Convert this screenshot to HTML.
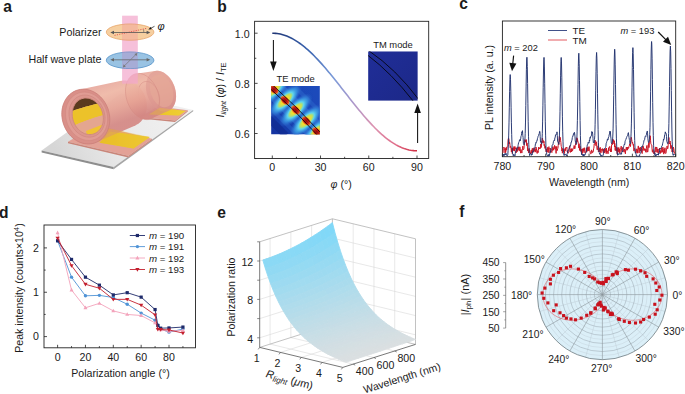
<!DOCTYPE html>
<html><head><meta charset="utf-8"><style>
html,body{margin:0;padding:0;background:#fff;width:685px;height:394px;overflow:hidden}
svg{display:block;font-family:"Liberation Sans", sans-serif;fill:#1a1a1a}
text{fill:#1a1a1a}
</style></head><body>
<svg width="685" height="394" viewBox="0 0 685 394">
<text x="3.3" y="11.7" font-size="15.6" font-weight="bold">a</text>
<text x="217.3" y="11.8" font-size="15.6" font-weight="bold">b</text>
<text x="459.3" y="8.6" font-size="15.6" font-weight="bold">c</text>
<text x="-0.9" y="217.9" font-size="15.6" font-weight="bold">d</text>
<text x="217.3" y="217.9" font-size="15.6" font-weight="bold">e</text>
<text x="459.3" y="216.8" font-size="15.6" font-weight="bold">f</text>
<defs><linearGradient id="slabG" gradientUnits="userSpaceOnUse" x1="60" y1="160" x2="170" y2="105"><stop offset="0" stop-color="#d6d6d6"/><stop offset="0.45" stop-color="#e8e8e8"/><stop offset="1" stop-color="#f0f0f0"/></linearGradient><linearGradient id="tubeG" gradientUnits="userSpaceOnUse" x1="105" y1="72" x2="122" y2="122"><stop offset="0" stop-color="#d88e8a"/><stop offset="0.15" stop-color="#e6a69c"/><stop offset="0.4" stop-color="#eeb6a4"/><stop offset="0.7" stop-color="#e6a294"/><stop offset="1" stop-color="#d48884"/></linearGradient><linearGradient id="goldG" x1="0" y1="0" x2="1" y2="0"><stop offset="0" stop-color="#e8c21c"/><stop offset="1" stop-color="#f2d838"/></linearGradient></defs>
<polygon points="41.6,150.6 113.7,167.1 193.2,109.9 121,93.4" fill="url(#slabG)"/>
<polygon points="41.6,150.6 113.7,167.1 113.7,169.2 41.6,152.4" fill="#8e8e8e"/>
<polygon points="113.7,167.1 193.2,109.9 193.2,111.3 113.7,169.2" fill="#a6a6a6"/>
<polygon points="68,141.8 128.3,155.8 152,138.8 96,125" fill="#e3a196"/>
<polygon points="68,141.8 128.3,155.8 128.3,157.4 68,143.3" fill="#c98579"/>
<polygon points="128.3,155.8 152,138.8 152,140.2 128.3,157.4" fill="#cf8c80"/>
<polygon points="140,117 175,120.5 187.8,110.3 158,106.6" fill="#e3a196"/>
<polygon points="140,117 175,120.5 175,122 140,118.5" fill="#c98579"/>
<polygon points="175,120.5 187.8,110.3 187.8,111.6 175,122" fill="#cf8c80"/>
<polygon points="99.6,142.7 133.6,148.6 149.8,136.9 110,131.6" fill="url(#goldG)"/>
<polygon points="148.9,114.4 179,115.6 185.7,111.1 159.6,107.8" fill="url(#goldG)"/>
<path d="M125.51,91.71 L125.52,89.76 L125.66,87.86 L125.93,86.03 L126.32,84.27 L126.84,82.61 L127.48,81.05 L128.23,79.62 L129.08,78.31 L130.04,77.14 L131.10,76.11 L132.24,75.24 L133.46,74.54 L134.75,74.00 L136.10,73.63 L137.50,73.43 L156.60,70.84 L157.87,70.82 L159.17,70.96 L160.48,71.25 L161.79,71.69 L163.10,72.28 L164.39,73.02 L165.66,73.89 L166.89,74.90 L168.08,76.02 L169.21,77.27 L170.28,78.62 L171.28,80.06 L172.20,81.60 L173.04,83.20 L173.78,84.86 L174.43,86.58 L174.97,88.33 L175.41,90.10 L175.74,91.87 L175.96,93.65 L176.06,95.40 L176.05,97.12 L175.92,98.80 L175.68,100.42 L175.33,101.97 L174.87,103.44 L174.30,104.81 L173.63,106.08 L172.87,107.24 L172.02,108.28 L171.08,109.18 L170.06,109.95 L168.98,110.58 L151.54,118.46 L150.25,119.00 L148.90,119.37 L147.50,119.57 L146.07,119.58 L144.61,119.43 L143.13,119.10 L141.65,118.59 L140.17,117.92 L138.71,117.09 L137.28,116.10 L135.89,114.96 L134.55,113.67 L133.27,112.26 L132.06,110.73 L130.93,109.09 L129.89,107.36 L128.95,105.54 L128.10,103.65 L127.37,101.71 L126.75,99.73 L126.26,97.72 L125.88,95.71 L125.63,93.70 Z" fill="url(#tubeG)" opacity="0.94"/>
<path d="M174.43,86.58 L174.97,88.33 L175.41,90.10 L175.74,91.87 L175.96,93.65 L176.06,95.40 L176.05,97.12 L175.92,98.80 L175.68,100.42 L175.33,101.97 L174.87,103.44 L174.30,104.81 L173.63,106.08 L172.87,107.24 L172.02,108.28 L171.08,109.18 L170.06,109.95 L168.98,110.58 L167.84,111.06 L166.64,111.38 L165.40,111.56 L164.13,111.58 L162.83,111.44 L161.52,111.15 L160.21,110.71 L158.90,110.12 L157.61,109.38 L156.34,108.51 L155.11,107.50 L153.92,106.38 L152.79,105.13 L151.72,103.78 L150.72,102.34 L149.80,100.80 L148.96,99.20 L148.22,97.54 L147.57,95.82 L147.03,94.07 L146.59,92.30 L146.26,90.53 L146.04,88.75 L145.94,87.00 L145.95,85.28 L146.08,83.60 L146.32,81.98 L146.67,80.43 L147.13,78.96 L147.70,77.59 L148.37,76.32 L149.13,75.16 L149.98,74.12 L150.92,73.22 L151.94,72.45 L153.02,71.82 L154.16,71.34 L155.36,71.02 L156.60,70.84 L157.87,70.82 L159.17,70.96 L160.48,71.25 L161.79,71.69 L163.10,72.28 L164.39,73.02 L165.66,73.89 L166.89,74.90 L168.08,76.02 L169.21,77.27 L170.28,78.62 L171.28,80.06 L172.20,81.60 L173.04,83.20 L173.78,84.86 Z" fill="#dc9890" opacity="0.55"/>
<path d="M172.00,87.22 L172.44,88.63 L172.80,90.06 L173.08,91.50 L173.27,92.93 L173.37,94.35 L173.37,95.74 L173.29,97.09 L173.13,98.39 L172.87,99.63 L172.53,100.81 L172.10,101.91 L171.59,102.93 L171.01,103.85 L170.36,104.68 L169.64,105.40 L168.86,106.01 L168.02,106.50 L167.13,106.87 L166.21,107.12 L165.24,107.25 L164.25,107.25 L163.24,107.13 L162.22,106.88 L161.19,106.51 L160.17,106.02 L159.15,105.42 L158.16,104.70 L157.19,103.88 L156.25,102.95 L155.36,101.94 L154.51,100.84 L153.72,99.66 L152.99,98.42 L152.32,97.12 L151.72,95.77 L151.20,94.38 L150.76,92.97 L150.40,91.54 L150.12,90.10 L149.93,88.67 L149.83,87.25 L149.83,85.86 L149.91,84.51 L150.07,83.21 L150.33,81.97 L150.67,80.79 L151.10,79.69 L151.61,78.67 L152.19,77.75 L152.84,76.92 L153.56,76.20 L154.34,75.59 L155.18,75.10 L156.07,74.73 L156.99,74.48 L157.96,74.35 L158.95,74.35 L159.96,74.47 L160.98,74.72 L162.01,75.09 L163.03,75.58 L164.05,76.18 L165.04,76.90 L166.01,77.72 L166.95,78.65 L167.84,79.66 L168.69,80.76 L169.48,81.94 L170.21,83.18 L170.88,84.48 L171.48,85.83 Z" fill="#e6aa98" opacity="0.6"/>
<path d="M158.46,92.74 L158.84,93.99 L159.16,95.26 L159.40,96.53 L159.56,97.79 L159.63,99.04 L159.63,100.27 L159.55,101.47 L159.38,102.62 L159.14,103.73 L158.82,104.77 L158.42,105.75 L157.96,106.65 L157.42,107.48 L156.82,108.21 L156.16,108.86 L155.45,109.40 L154.69,109.85 L153.88,110.18 L153.04,110.41 L152.17,110.53 L151.27,110.54 L150.36,110.44 L149.43,110.23 L148.50,109.91 L147.58,109.49 L146.66,108.96 L145.77,108.33 L144.90,107.61 L144.06,106.80 L143.25,105.91 L142.49,104.94 L141.79,103.91 L141.13,102.82 L140.54,101.67 L140.01,100.48 L139.54,99.26 L139.16,98.01 L138.84,96.74 L138.60,95.47 L138.44,94.21 L138.37,92.96 L138.37,91.73 L138.45,90.53 L138.62,89.38 L138.86,88.27 L139.18,87.23 L139.58,86.25 L140.04,85.35 L140.58,84.52 L141.18,83.79 L141.84,83.14 L142.55,82.60 L143.31,82.15 L144.12,81.82 L144.96,81.59 L145.83,81.47 L146.73,81.46 L147.64,81.56 L148.57,81.77 L149.50,82.09 L150.42,82.51 L151.34,83.04 L152.23,83.67 L153.10,84.39 L153.94,85.20 L154.75,86.09 L155.51,87.06 L156.21,88.09 L156.87,89.18 L157.46,90.33 L157.99,91.52 Z" fill="none" stroke="#d89088" stroke-width="0.8" opacity="0.7"/>
<path d="M61.82,114.80 L61.84,112.43 L62.03,110.08 L62.41,107.79 L62.96,105.56 L63.69,103.42 L64.58,101.38 L65.64,99.46 L66.85,97.66 L68.21,96.01 L69.70,94.52 L71.31,93.19 L73.03,92.04 L74.85,91.08 L76.75,90.31 L78.72,89.75 L120.04,80.99 L121.80,80.67 L123.60,80.52 L125.41,80.55 L127.23,80.76 L129.04,81.14 L130.82,81.69 L132.57,82.42 L134.27,83.30 L135.91,84.34 L137.47,85.53 L138.94,86.86 L140.32,88.32 L141.59,89.90 L142.73,91.58 L143.75,93.35 L144.64,95.21 L145.38,97.13 L145.98,99.10 L146.42,101.10 L146.71,103.13 L146.84,105.16 L146.81,107.18 L146.63,109.18 L146.28,111.13 L145.79,113.03 L145.14,114.86 L144.35,116.60 L143.41,118.25 L142.35,119.79 L141.16,121.20 L139.85,122.49 L138.44,123.63 L136.93,124.62 L135.34,125.45 L96.75,142.12 L94.85,142.89 L92.88,143.45 L90.85,143.81 L88.79,143.97 L86.71,143.92 L84.61,143.66 L82.53,143.19 L80.47,142.52 L78.45,141.65 L76.49,140.60 L74.60,139.36 L72.79,137.94 L71.08,136.37 L69.49,134.64 L68.02,132.78 L66.68,130.79 L65.49,128.70 L64.45,126.51 L63.58,124.25 L62.88,121.93 L62.35,119.57 L61.99,117.19 Z" fill="url(#tubeG)" opacity="0.92"/>
<path d="M157.63,91.29 L158.25,93.27 L158.74,95.28 L159.12,97.29 L159.37,99.30 L159.49,101.29 L159.48,103.24 L159.34,105.14 L159.07,106.97 L158.68,108.73 L158.16,110.39 L157.52,111.95 L156.77,113.38 L155.92,114.69 L154.96,115.86 L153.90,116.89 L152.76,117.76 L151.54,118.46 L150.25,119.00 L148.90,119.37 L147.50,119.57 L146.07,119.58 L144.61,119.43 L143.13,119.10 L141.65,118.59 L140.17,117.92 L138.71,117.09 L137.28,116.10 L135.89,114.96 L134.55,113.67 L133.27,112.26 L132.06,110.73 L130.93,109.09 L129.89,107.36 L128.95,105.54 L128.10,103.65 L127.37,101.71 L126.75,99.73 L126.26,97.72 L125.88,95.71 L125.63,93.70 L125.51,91.71 L125.52,89.76 L125.66,87.86 L125.93,86.03 L126.32,84.27 L126.84,82.61 L127.48,81.05 L128.23,79.62 L129.08,78.31 L130.04,77.14 L131.10,76.11 L132.24,75.24 L133.46,74.54 L134.75,74.00 L136.10,73.63 L137.50,73.43 L138.93,73.42 L140.39,73.57 L141.87,73.90 L143.35,74.41 L144.83,75.08 L146.29,75.91 L147.72,76.90 L149.11,78.04 L150.45,79.33 L151.73,80.74 L152.94,82.27 L154.07,83.91 L155.11,85.64 L156.05,87.46 L156.90,89.35 Z" fill="none" stroke="#d48a82" stroke-width="0.9" opacity="0.55"/>
<polygon points="92,140.2 133.6,148.6 149.8,136.9 108,128.2" fill="#eab830" opacity="0.42"/>
<path d="M108.02,108.95 L108.72,111.27 L109.25,113.63 L109.61,116.01 L109.78,118.40 L109.76,120.77 L109.57,123.12 L109.19,125.41 L108.64,127.64 L107.91,129.78 L107.02,131.82 L105.96,133.74 L104.75,135.54 L103.39,137.19 L101.90,138.68 L100.29,140.01 L98.57,141.16 L96.75,142.12 L94.85,142.89 L92.88,143.45 L90.85,143.81 L88.79,143.97 L86.71,143.92 L84.61,143.66 L82.53,143.19 L80.47,142.52 L78.45,141.65 L76.49,140.60 L74.60,139.36 L72.79,137.94 L71.08,136.37 L69.49,134.64 L68.02,132.78 L66.68,130.79 L65.49,128.70 L64.45,126.51 L63.58,124.25 L62.88,121.93 L62.35,119.57 L61.99,117.19 L61.82,114.80 L61.84,112.43 L62.03,110.08 L62.41,107.79 L62.96,105.56 L63.69,103.42 L64.58,101.38 L65.64,99.46 L66.85,97.66 L68.21,96.01 L69.70,94.52 L71.31,93.19 L73.03,92.04 L74.85,91.08 L76.75,90.31 L78.72,89.75 L80.75,89.39 L82.81,89.23 L84.89,89.28 L86.99,89.54 L89.07,90.01 L91.13,90.68 L93.15,91.55 L95.11,92.60 L97.00,93.84 L98.81,95.26 L100.52,96.83 L102.11,98.56 L103.58,100.42 L104.92,102.41 L106.11,104.50 L107.15,106.69 Z" fill="#d98f88" stroke="#cc807a" stroke-width="0.8"/>
<path d="M106.08,109.59 L106.70,111.65 L107.17,113.73 L107.49,115.84 L107.64,117.95 L107.64,120.05 L107.47,122.12 L107.15,124.15 L106.67,126.11 L106.04,128.00 L105.26,129.81 L104.33,131.51 L103.27,133.09 L102.09,134.55 L100.79,135.86 L99.38,137.03 L97.87,138.04 L96.28,138.89 L94.61,139.56 L92.88,140.06 L91.11,140.37 L89.29,140.50 L87.46,140.45 L85.63,140.21 L83.80,139.80 L81.99,139.20 L80.22,138.43 L78.49,137.49 L76.83,136.39 L75.24,135.14 L73.74,133.74 L72.33,132.21 L71.04,130.56 L69.86,128.80 L68.81,126.94 L67.89,125.01 L67.12,123.01 L66.50,120.95 L66.03,118.87 L65.71,116.76 L65.56,114.65 L65.56,112.55 L65.73,110.48 L66.05,108.45 L66.53,106.49 L67.16,104.60 L67.94,102.79 L68.87,101.09 L69.93,99.51 L71.11,98.05 L72.41,96.74 L73.82,95.57 L75.33,94.56 L76.92,93.71 L78.59,93.04 L80.32,92.54 L82.09,92.23 L83.91,92.10 L85.74,92.15 L87.57,92.39 L89.40,92.80 L91.21,93.40 L92.98,94.17 L94.71,95.11 L96.37,96.21 L97.96,97.46 L99.46,98.86 L100.87,100.39 L102.16,102.04 L103.34,103.80 L104.39,105.66 L105.31,107.59 Z" fill="#e09c94" stroke="#d08880" stroke-width="0.6"/>
<path d="M103.64,110.37 L104.19,112.16 L104.60,113.97 L104.88,115.80 L105.02,117.64 L105.03,119.46 L104.90,121.25 L104.63,123.01 L104.23,124.72 L103.69,126.36 L103.03,127.92 L102.25,129.39 L101.35,130.76 L100.35,132.02 L99.24,133.15 L98.04,134.16 L96.75,135.03 L95.39,135.76 L93.97,136.33 L92.49,136.76 L90.97,137.02 L89.42,137.13 L87.86,137.07 L86.28,136.86 L84.71,136.49 L83.16,135.96 L81.64,135.28 L80.16,134.46 L78.73,133.50 L77.36,132.40 L76.07,131.18 L74.86,129.84 L73.75,128.40 L72.73,126.87 L71.82,125.26 L71.03,123.57 L70.36,121.83 L69.81,120.04 L69.40,118.23 L69.12,116.40 L68.98,114.56 L68.97,112.74 L69.10,110.95 L69.37,109.19 L69.77,107.48 L70.31,105.84 L70.97,104.28 L71.75,102.81 L72.65,101.44 L73.65,100.18 L74.76,99.05 L75.96,98.04 L77.25,97.17 L78.61,96.44 L80.03,95.87 L81.51,95.44 L83.03,95.18 L84.58,95.07 L86.14,95.13 L87.72,95.34 L89.29,95.71 L90.84,96.24 L92.36,96.92 L93.84,97.74 L95.27,98.70 L96.64,99.80 L97.93,101.02 L99.14,102.36 L100.25,103.80 L101.27,105.33 L102.18,106.94 L102.97,108.63 Z" fill="#dc968e" stroke="#cc847c" stroke-width="0.6"/>
<clipPath id="innerClip"><path d="M102.17,111.35 L102.64,112.90 L103.01,114.48 L103.25,116.07 L103.38,117.66 L103.38,119.25 L103.27,120.81 L103.05,122.33 L102.70,123.81 L102.24,125.24 L101.68,126.59 L101.00,127.87 L100.23,129.06 L99.36,130.15 L98.41,131.13 L97.37,132.01 L96.26,132.76 L95.09,133.39 L93.86,133.89 L92.58,134.25 L91.27,134.48 L89.93,134.57 L88.57,134.52 L87.21,134.33 L85.86,134.00 L84.52,133.54 L83.20,132.95 L81.92,132.23 L80.68,131.40 L79.50,130.44 L78.38,129.38 L77.33,128.22 L76.37,126.97 L75.49,125.63 L74.70,124.23 L74.01,122.76 L73.43,121.25 L72.96,119.70 L72.59,118.12 L72.35,116.53 L72.22,114.94 L72.22,113.35 L72.33,111.79 L72.55,110.27 L72.90,108.79 L73.36,107.36 L73.92,106.01 L74.60,104.73 L75.37,103.54 L76.24,102.45 L77.19,101.47 L78.23,100.59 L79.34,99.84 L80.51,99.21 L81.74,98.71 L83.02,98.35 L84.33,98.12 L85.67,98.03 L87.03,98.08 L88.39,98.27 L89.74,98.60 L91.08,99.06 L92.40,99.65 L93.68,100.37 L94.92,101.20 L96.10,102.16 L97.22,103.22 L98.27,104.38 L99.23,105.63 L100.11,106.97 L100.90,108.37 L101.59,109.84 Z"/></clipPath>
<g clip-path="url(#innerClip)">
<path d="M102.17,111.35 L102.64,112.90 L103.01,114.48 L103.25,116.07 L103.38,117.66 L103.38,119.25 L103.27,120.81 L103.05,122.33 L102.70,123.81 L102.24,125.24 L101.68,126.59 L101.00,127.87 L100.23,129.06 L99.36,130.15 L98.41,131.13 L97.37,132.01 L96.26,132.76 L95.09,133.39 L93.86,133.89 L92.58,134.25 L91.27,134.48 L89.93,134.57 L88.57,134.52 L87.21,134.33 L85.86,134.00 L84.52,133.54 L83.20,132.95 L81.92,132.23 L80.68,131.40 L79.50,130.44 L78.38,129.38 L77.33,128.22 L76.37,126.97 L75.49,125.63 L74.70,124.23 L74.01,122.76 L73.43,121.25 L72.96,119.70 L72.59,118.12 L72.35,116.53 L72.22,114.94 L72.22,113.35 L72.33,111.79 L72.55,110.27 L72.90,108.79 L73.36,107.36 L73.92,106.01 L74.60,104.73 L75.37,103.54 L76.24,102.45 L77.19,101.47 L78.23,100.59 L79.34,99.84 L80.51,99.21 L81.74,98.71 L83.02,98.35 L84.33,98.12 L85.67,98.03 L87.03,98.08 L88.39,98.27 L89.74,98.60 L91.08,99.06 L92.40,99.65 L93.68,100.37 L94.92,101.20 L96.10,102.16 L97.22,103.22 L98.27,104.38 L99.23,105.63 L100.11,106.97 L100.90,108.37 L101.59,109.84 Z" fill="#e6ab94"/>
<path d="M60,117 C70,111 82,107 108,101 L108,80 L60,80 Z" fill="#5a3a1e"/>
<path d="M60,117 C70,111 82,107 108,101 L108,114 C92,118 76,124 60,132 Z" fill="#ecc22a"/>
<path d="M60,132 C76,124 92,118 108,114 L108,150 L60,150 Z" fill="#e4a690"/>
<polygon points="86,131 104,124 106,134 88,140" fill="#f0c432"/>
</g>
<path d="M102.17,111.35 L102.64,112.90 L103.01,114.48 L103.25,116.07 L103.38,117.66 L103.38,119.25 L103.27,120.81 L103.05,122.33 L102.70,123.81 L102.24,125.24 L101.68,126.59 L101.00,127.87 L100.23,129.06 L99.36,130.15 L98.41,131.13 L97.37,132.01 L96.26,132.76 L95.09,133.39 L93.86,133.89 L92.58,134.25 L91.27,134.48 L89.93,134.57 L88.57,134.52 L87.21,134.33 L85.86,134.00 L84.52,133.54 L83.20,132.95 L81.92,132.23 L80.68,131.40 L79.50,130.44 L78.38,129.38 L77.33,128.22 L76.37,126.97 L75.49,125.63 L74.70,124.23 L74.01,122.76 L73.43,121.25 L72.96,119.70 L72.59,118.12 L72.35,116.53 L72.22,114.94 L72.22,113.35 L72.33,111.79 L72.55,110.27 L72.90,108.79 L73.36,107.36 L73.92,106.01 L74.60,104.73 L75.37,103.54 L76.24,102.45 L77.19,101.47 L78.23,100.59 L79.34,99.84 L80.51,99.21 L81.74,98.71 L83.02,98.35 L84.33,98.12 L85.67,98.03 L87.03,98.08 L88.39,98.27 L89.74,98.60 L91.08,99.06 L92.40,99.65 L93.68,100.37 L94.92,101.20 L96.10,102.16 L97.22,103.22 L98.27,104.38 L99.23,105.63 L100.11,106.97 L100.90,108.37 L101.59,109.84 Z" fill="none" stroke="#d08a80" stroke-width="1"/>
<polygon points="99.6,142.7 133.6,148.6 149.8,136.9 110,131.6" fill="#ecc030" opacity="0.3"/>
<polygon points="148.9,114.4 179,115.6 185.7,111.1 159.6,107.8" fill="#ecc030" opacity="0.35"/>
<rect x="122.1" y="15.7" width="15.7" height="68" fill="#f2a8cc" opacity="0.72"/>
<ellipse cx="130.1" cy="32.1" rx="23.8" ry="8.1" fill="#f6cb98" stroke="#e6a060" stroke-width="0.8" opacity="0.92"/>
<rect x="122.1" y="24.2" width="15.7" height="16" fill="#f09aa0" opacity="0.35"/>
<line x1="114.5" y1="35.4" x2="147.2" y2="28.2" stroke="#e04040" stroke-width="0.8" stroke-dasharray="1.2,1.2"/>
<line x1="112" y1="32.5" x2="148.5" y2="32.5" stroke="#555" stroke-width="0.8"/>
<polygon points="110.3,32.5 114,30.8 114,34.2" fill="#555"/><polygon points="150.3,32.5 146.6,30.8 146.6,34.2" fill="#555"/>
<path d="M143.6,29.5 L143.8,32.3" stroke="#555" stroke-width="0.6"/>
<line x1="154.5" y1="26.3" x2="149.8" y2="28.8" stroke="#111" stroke-width="0.7"/>
<polygon points="148.3,29.5 150.8,27 151.6,29.3" fill="#111"/>
<text x="157.5" y="29.6" font-size="11" font-style="italic">φ</text>
<ellipse cx="130.1" cy="60.3" rx="23.8" ry="8.3" fill="#94c0e2" stroke="#4c8ec6" stroke-width="0.8" opacity="0.95"/>
<rect x="122.1" y="52" width="15.7" height="16.6" fill="#b498cc" opacity="0.5"/>
<line x1="112" y1="59.8" x2="148.5" y2="59.8" stroke="#666" stroke-width="0.8"/>
<polygon points="110.3,59.8 114,58.1 114,61.5" fill="#666"/><polygon points="150.3,59.8 146.6,58.1 146.6,61.5" fill="#666"/>
<line x1="124" y1="66.2" x2="136.2" y2="54.2" stroke="#777" stroke-width="0.7"/>
<polygon points="122.9,67.4 123.6,64.3 125.8,66.4" fill="#777"/><polygon points="137.3,53 136.6,56.1 134.4,54" fill="#777"/>
<text x="101.50" y="35.50" font-size="10.7" text-anchor="end" fill="#1a1a1a">Polarizer</text>
<text x="101.50" y="62.70" font-size="10.7" text-anchor="end" fill="#1a1a1a">Half wave plate</text>
<defs><linearGradient id="bcurve" gradientUnits="userSpaceOnUse" x1="272" y1="0" x2="417" y2="0"><stop offset="0" stop-color="#1f3473"/><stop offset="0.25" stop-color="#3a64b0"/><stop offset="0.42" stop-color="#7a9ad8"/><stop offset="0.55" stop-color="#a898cc"/><stop offset="0.7" stop-color="#dc92b0"/><stop offset="0.86" stop-color="#e06a86"/><stop offset="1" stop-color="#d02c40"/></linearGradient></defs>
<rect x="254.6" y="21.3" width="174.1" height="137.2" fill="none" stroke="#222" stroke-width="0.9"/>
<line x1="254.6" y1="133.50" x2="257.6" y2="133.50" stroke="#222" stroke-width="0.8"/>
<text x="249.60" y="138.40" font-size="10.6" text-anchor="end" >0.6</text>
<line x1="254.6" y1="83.35" x2="257.6" y2="83.35" stroke="#222" stroke-width="0.8"/>
<text x="249.60" y="88.25" font-size="10.6" text-anchor="end" >0.8</text>
<line x1="254.6" y1="33.20" x2="257.6" y2="33.20" stroke="#222" stroke-width="0.8"/>
<text x="249.60" y="38.10" font-size="10.6" text-anchor="end" >1.0</text>
<line x1="254.6" y1="158.57" x2="256.3" y2="158.57" stroke="#222" stroke-width="0.8"/>
<line x1="254.6" y1="108.43" x2="256.3" y2="108.43" stroke="#222" stroke-width="0.8"/>
<line x1="254.6" y1="58.27" x2="256.3" y2="58.27" stroke="#222" stroke-width="0.8"/>
<line x1="272.30" y1="158.5" x2="272.30" y2="155.5" stroke="#222" stroke-width="0.8"/>
<text x="272.30" y="171.30" font-size="10.6" text-anchor="middle" >0</text>
<line x1="320.53" y1="158.5" x2="320.53" y2="155.5" stroke="#222" stroke-width="0.8"/>
<text x="320.53" y="171.30" font-size="10.6" text-anchor="middle" >30</text>
<line x1="368.77" y1="158.5" x2="368.77" y2="155.5" stroke="#222" stroke-width="0.8"/>
<text x="368.77" y="171.30" font-size="10.6" text-anchor="middle" >60</text>
<line x1="417.00" y1="158.5" x2="417.00" y2="155.5" stroke="#222" stroke-width="0.8"/>
<text x="417.00" y="171.30" font-size="10.6" text-anchor="middle" >90</text>
<line x1="296.42" y1="158.5" x2="296.42" y2="156.8" stroke="#222" stroke-width="0.8"/>
<line x1="344.65" y1="158.5" x2="344.65" y2="156.8" stroke="#222" stroke-width="0.8"/>
<line x1="392.88" y1="158.5" x2="392.88" y2="156.8" stroke="#222" stroke-width="0.8"/>
<text x="341.20" y="188.00" font-size="10.6" text-anchor="middle" ><tspan font-style="italic">φ</tspan> (°)</text>
<text transform="translate(223.8,90.0) rotate(-90)" font-size="10.6" text-anchor="middle"><tspan font-style="italic">I</tspan><tspan font-size="7.5" font-style="italic" dy="2">light</tspan><tspan dy="-2"> (</tspan><tspan font-style="italic">φ</tspan>) / <tspan font-style="italic">I</tspan><tspan font-size="7.5" dy="2">TE</tspan></text>
<path d="M272.30,33.20 L273.91,33.24 L275.52,33.34 L277.12,33.52 L278.73,33.77 L280.34,34.09 L281.95,34.48 L283.55,34.95 L285.16,35.48 L286.77,36.08 L288.38,36.75 L289.99,37.48 L291.59,38.28 L293.20,39.15 L294.81,40.08 L296.42,41.08 L298.02,42.13 L299.63,43.25 L301.24,44.43 L302.85,45.67 L304.46,46.96 L306.06,48.30 L307.67,49.70 L309.28,51.15 L310.89,52.66 L312.49,54.20 L314.10,55.80 L315.71,57.44 L317.32,59.12 L318.93,60.84 L320.53,62.60 L322.14,64.40 L323.75,66.22 L325.36,68.08 L326.96,69.97 L328.57,71.89 L330.18,73.83 L331.79,75.79 L333.40,77.78 L335.00,79.78 L336.61,81.79 L338.22,83.82 L339.83,85.85 L341.43,87.90 L343.04,89.95 L344.65,92.00 L346.26,94.05 L347.87,96.10 L349.47,98.15 L351.08,100.18 L352.69,102.21 L354.30,104.23 L355.90,106.23 L357.51,108.21 L359.12,110.17 L360.73,112.11 L362.34,114.03 L363.94,115.92 L365.55,117.78 L367.16,119.61 L368.77,121.40 L370.37,123.16 L371.98,124.88 L373.59,126.56 L375.20,128.20 L376.81,129.80 L378.41,131.35 L380.02,132.85 L381.63,134.30 L383.24,135.70 L384.84,137.04 L386.45,138.34 L388.06,139.57 L389.67,140.75 L391.28,141.87 L392.88,142.92 L394.49,143.92 L396.10,144.85 L397.71,145.72 L399.31,146.52 L400.92,147.26 L402.53,147.92 L404.14,148.52 L405.75,149.06 L407.35,149.52 L408.96,149.91 L410.57,150.23 L412.18,150.48 L413.78,150.66 L415.39,150.77 L417.00,150.80" fill="none" stroke="url(#bcurve)" stroke-width="1.6"/>
<line x1="273.4" y1="40" x2="273.4" y2="66" stroke="#111" stroke-width="1.05"/>
<polygon points="273.4,71 270.1,61.6 276.7,61.6" fill="#111"/>
<line x1="417.6" y1="143" x2="417.6" y2="108" stroke="#111" stroke-width="1.05"/>
<polygon points="417.6,103.6 414.3,113 420.9,113" fill="#111"/>
<text x="295.60" y="82.30" font-size="9.4" text-anchor="middle" >TE mode</text>
<defs><clipPath id="teclip"><rect x="271.1" y="86.0" width="48.8" height="48.5"/></clipPath><radialGradient id="lobe"><stop offset="0" stop-color="#f6c020"/><stop offset="0.22" stop-color="#f2dc30"/><stop offset="0.36" stop-color="#b8e068"/><stop offset="0.48" stop-color="#5ed4ee"/><stop offset="0.7" stop-color="#3a98e4" stop-opacity="0.8"/><stop offset="1" stop-color="#2a60c8" stop-opacity="0"/></radialGradient><radialGradient id="core"><stop offset="0" stop-color="#8a0a0a"/><stop offset="0.45" stop-color="#c01818"/><stop offset="0.7" stop-color="#e85018"/><stop offset="1" stop-color="#f0a020" stop-opacity="0"/></radialGradient><linearGradient id="tebg" x1="0" y1="1" x2="1" y2="0"><stop offset="0" stop-color="#1634a0"/><stop offset="0.5" stop-color="#1c48b8"/><stop offset="1" stop-color="#1e4cbc"/></linearGradient></defs>
<g clip-path="url(#teclip)">
<rect x="271.1" y="86.0" width="48.8" height="48.5" fill="url(#tebg)"/>
<line x1="261.1" y1="87.0" x2="309.90000000000003" y2="135.5" stroke="#3478d8" stroke-width="5" opacity="0.6"/>
<line x1="249.10000000000002" y1="87.0" x2="297.90000000000003" y2="135.5" stroke="#2a66cc" stroke-width="4" opacity="0.5"/>
<line x1="282.1" y1="87.0" x2="330.90000000000003" y2="135.5" stroke="#3a80dc" stroke-width="5" opacity="0.55"/>
<line x1="295.1" y1="87.0" x2="343.90000000000003" y2="135.5" stroke="#2c68cc" stroke-width="4" opacity="0.5"/>
<line x1="237.10000000000002" y1="87.0" x2="285.90000000000003" y2="135.5" stroke="#10288c" stroke-width="7" opacity="0.6"/>
<ellipse cx="273.90" cy="89.60" rx="9" ry="22" transform="rotate(45 273.90 89.60)" fill="url(#lobe)"/>
<ellipse cx="285.00" cy="100.40" rx="9" ry="22" transform="rotate(45 285.00 100.40)" fill="url(#lobe)"/>
<ellipse cx="295.70" cy="110.00" rx="9" ry="22" transform="rotate(45 295.70 110.00)" fill="url(#lobe)"/>
<ellipse cx="306.30" cy="121.00" rx="9" ry="22" transform="rotate(45 306.30 121.00)" fill="url(#lobe)"/>
<ellipse cx="316.70" cy="131.80" rx="9" ry="22" transform="rotate(45 316.70 131.80)" fill="url(#lobe)"/>
<ellipse cx="273.90" cy="89.60" rx="6.2" ry="3.9" transform="rotate(45 273.90 89.60)" fill="url(#core)"/>
<ellipse cx="285.00" cy="100.40" rx="6.2" ry="3.9" transform="rotate(45 285.00 100.40)" fill="url(#core)"/>
<ellipse cx="295.70" cy="110.00" rx="6.2" ry="3.9" transform="rotate(45 295.70 110.00)" fill="url(#core)"/>
<ellipse cx="306.30" cy="121.00" rx="6.2" ry="3.9" transform="rotate(45 306.30 121.00)" fill="url(#core)"/>
<ellipse cx="316.70" cy="131.80" rx="6.2" ry="3.9" transform="rotate(45 316.70 131.80)" fill="url(#core)"/>
<path d="M272.6,85.0 Q297.1,107.05 320.90000000000003,133.0" stroke="#000" stroke-width="0.8" fill="none"/>
<path d="M270.1,88.6 Q294.9,109.75 317.70000000000005,135.5" stroke="#000" stroke-width="0.8" fill="none"/>
</g>
<text x="393.00" y="48.00" font-size="9.4" text-anchor="middle" >TM mode</text>
<defs><linearGradient id="tmbg" x1="0" y1="0" x2="1" y2="1"><stop offset="0" stop-color="#202e98"/><stop offset="1" stop-color="#1c2888"/></linearGradient><clipPath id="tmclip"><rect x="368.1" y="51.3" width="49.7" height="49.5"/></clipPath></defs>
<g clip-path="url(#tmclip)"><rect x="368.1" y="51.3" width="49.7" height="49.5" fill="url(#tmbg)"/>
<path d="M367.6,55.099999999999994 Q391.459,73.08 413.40000000000003,101.3" stroke="#000" stroke-width="0.8" fill="none"/>
<path d="M368.90000000000003,50.8 Q395.932,69.12 418.3,99.0" stroke="#000" stroke-width="0.8" fill="none"/>
</g>
<rect x="502.4" y="21.0" width="173.30000000000007" height="135.7" fill="none" stroke="#222" stroke-width="0.9"/>
<line x1="502.40" y1="156.7" x2="502.40" y2="153.7" stroke="#222" stroke-width="0.8"/>
<text x="502.40" y="170.20" font-size="10.6" text-anchor="middle" >780</text>
<line x1="545.73" y1="156.7" x2="545.73" y2="153.7" stroke="#222" stroke-width="0.8"/>
<text x="545.73" y="170.20" font-size="10.6" text-anchor="middle" >790</text>
<line x1="589.05" y1="156.7" x2="589.05" y2="153.7" stroke="#222" stroke-width="0.8"/>
<text x="589.05" y="170.20" font-size="10.6" text-anchor="middle" >800</text>
<line x1="632.38" y1="156.7" x2="632.38" y2="153.7" stroke="#222" stroke-width="0.8"/>
<text x="632.38" y="170.20" font-size="10.6" text-anchor="middle" >810</text>
<line x1="675.70" y1="156.7" x2="675.70" y2="153.7" stroke="#222" stroke-width="0.8"/>
<text x="675.70" y="170.20" font-size="10.6" text-anchor="middle" >820</text>
<line x1="524.06" y1="156.7" x2="524.06" y2="155.0" stroke="#222" stroke-width="0.8"/>
<line x1="567.39" y1="156.7" x2="567.39" y2="155.0" stroke="#222" stroke-width="0.8"/>
<line x1="610.71" y1="156.7" x2="610.71" y2="155.0" stroke="#222" stroke-width="0.8"/>
<line x1="654.04" y1="156.7" x2="654.04" y2="155.0" stroke="#222" stroke-width="0.8"/>
<text x="589.20" y="185.50" font-size="10.6" text-anchor="middle" >Wavelength (nm)</text>
<text transform="translate(493.4,87.5) rotate(-90)" font-size="10.6" text-anchor="middle">PL intensity (a. u.)</text>
<path d="M503.00,152.89 L503.30,148.42 L503.60,148.01 L503.90,147.00 L504.20,147.77 L504.50,149.89 L504.80,150.14 L505.10,153.03 L505.40,148.42 L505.70,152.39 L506.00,147.91 L506.30,147.31 L506.60,150.20 L506.90,148.21 L507.20,146.46 L507.50,146.35 L507.80,145.32 L508.10,139.72 L508.40,138.36 L508.70,138.31 L509.00,139.90 L509.30,144.04 L509.60,142.24 L509.90,143.88 L510.20,147.64 L510.50,146.21 L510.80,146.50 L511.10,148.81 L511.40,151.96 L511.70,147.92 L512.00,151.44 L512.30,153.68 L512.60,148.28 L512.90,149.41 L513.20,148.12 L513.50,150.55 L513.80,146.78 L514.10,146.44 L514.40,151.12 L514.70,147.02 L515.00,146.62 L515.30,148.86 L515.60,148.15 L515.90,148.09 L516.20,152.85 L516.50,147.77 L516.80,147.93 L517.10,149.68 L517.40,151.53 L517.70,149.11 L518.00,147.57 L518.30,149.81 L518.60,146.82 L518.90,148.02 L519.20,151.04 L519.50,150.03 L519.80,146.79 L520.10,148.01 L520.40,151.79 L520.70,153.15 L521.00,149.59 L521.30,152.02 L521.60,152.14 L521.90,153.05 L522.20,150.05 L522.50,148.94 L522.80,146.18 L523.10,148.92 L523.40,149.81 L523.70,149.32 L524.00,148.38 L524.30,143.02 L524.60,141.34 L524.90,139.60 L525.20,141.98 L525.50,140.42 L525.80,139.89 L526.10,142.39 L526.40,139.65 L526.70,145.58 L526.90,143.56 L527.00,142.90 L527.30,144.04 L527.60,150.83 L527.90,149.30 L528.20,149.26 L528.50,152.82 L528.80,149.75 L529.10,148.30 L529.40,149.05 L529.70,152.39 L530.00,152.04 L530.30,152.44 L530.60,153.95 L530.90,152.53 L531.20,150.18 L531.50,153.34 L531.80,151.98 L532.10,149.17 L532.40,148.24 L532.70,152.98 L533.00,151.86 L533.30,151.09 L533.60,151.98 L533.90,147.75 L534.20,149.24 L534.50,150.89 L534.80,149.11 L535.10,152.16 L535.40,149.82 L535.70,151.64 L536.00,147.00 L536.30,149.99 L536.60,148.84 L536.90,152.92 L537.20,153.47 L537.50,150.63 L537.80,150.95 L538.10,152.69 L538.40,150.45 L538.70,147.04 L539.00,147.71 L539.30,148.83 L539.60,147.98 L539.90,147.80 L540.20,148.70 L540.50,146.98 L540.80,143.94 L541.10,147.61 L541.40,146.95 L541.70,141.07 L542.00,142.86 L542.30,138.02 L542.60,138.62 L542.90,142.67 L543.20,140.47 L543.50,140.77 L543.80,142.61 L544.00,141.49 L544.10,145.57 L544.40,144.43 L544.70,146.00 L545.00,148.42 L545.30,145.91 L545.60,148.54 L545.90,150.38 L546.20,151.94 L546.50,149.31 L546.80,150.62 L547.10,152.13 L547.40,147.39 L547.70,150.42 L548.00,152.06 L548.30,152.67 L548.60,147.22 L548.90,146.64 L549.20,147.61 L549.50,149.44 L549.80,149.78 L550.10,152.73 L550.40,148.53 L550.70,148.10 L551.00,150.73 L551.30,150.92 L551.60,151.87 L551.90,152.59 L552.20,149.35 L552.50,150.45 L552.80,146.70 L553.10,150.05 L553.40,148.32 L553.70,150.21 L554.00,147.34 L554.30,146.53 L554.60,145.37 L554.90,148.96 L555.20,146.36 L555.50,148.37 L555.80,150.69 L556.10,153.42 L556.40,149.29 L556.70,146.40 L557.00,150.72 L557.30,150.45 L557.60,148.84 L557.90,148.59 L558.20,145.52 L558.50,142.31 L558.80,144.41 L559.10,140.16 L559.40,136.24 L559.70,141.52 L560.00,137.20 L560.30,137.46 L560.60,140.38 L560.90,142.47 L561.20,146.31 L561.50,146.89 L561.80,150.89 L562.10,149.74 L562.40,153.17 L562.70,148.36 L563.00,150.42 L563.30,149.60 L563.60,149.65 L563.90,149.04 L564.20,150.27 L564.50,153.44 L564.80,149.57 L565.10,148.47 L565.40,150.77 L565.70,147.72 L566.00,148.16 L566.30,147.31 L566.60,147.77 L566.90,147.16 L567.20,151.71 L567.50,150.71 L567.80,153.00 L568.10,153.30 L568.40,153.03 L568.70,152.27 L569.00,152.08 L569.30,147.86 L569.60,145.92 L569.90,147.33 L570.20,150.39 L570.50,152.36 L570.80,150.78 L571.10,149.14 L571.40,151.95 L571.70,148.68 L572.00,148.39 L572.30,151.14 L572.60,150.48 L572.90,149.00 L573.20,148.87 L573.50,147.41 L573.80,146.59 L574.10,145.49 L574.40,145.85 L574.70,148.88 L575.00,148.15 L575.30,145.55 L575.60,143.61 L575.90,144.69 L576.20,140.93 L576.50,141.95 L576.80,137.74 L577.10,141.82 L577.40,138.57 L577.70,140.51 L578.00,141.78 L578.30,143.38 L578.60,144.30 L578.80,148.03 L578.90,144.38 L579.20,143.72 L579.50,150.43 L579.80,147.46 L580.10,146.24 L580.40,147.28 L580.70,151.24 L581.00,151.17 L581.30,149.26 L581.60,152.46 L581.90,154.31 L582.20,151.67 L582.50,148.77 L582.80,152.93 L583.10,148.99 L583.40,148.47 L583.70,151.32 L584.00,150.20 L584.30,147.71 L584.60,150.11 L584.90,152.90 L585.20,153.30 L585.50,151.70 L585.80,151.53 L586.10,150.11 L586.40,147.80 L586.70,152.11 L587.00,148.91 L587.30,151.08 L587.60,147.37 L587.90,146.76 L588.20,151.04 L588.50,147.73 L588.80,147.71 L589.10,146.69 L589.40,150.72 L589.70,150.73 L590.00,150.95 L590.30,153.41 L590.60,153.84 L590.90,154.11 L591.20,152.47 L591.50,149.88 L591.80,150.63 L592.10,153.08 L592.40,152.27 L592.70,151.58 L593.00,152.18 L593.30,151.05 L593.60,148.75 L593.90,148.05 L594.20,143.98 L594.50,144.29 L594.80,144.15 L595.10,140.22 L595.40,142.83 L595.70,144.28 L596.00,145.78 L596.30,142.07 L596.60,141.78 L596.90,147.95 L597.20,149.92 L597.50,149.29 L597.80,147.92 L598.10,145.89 L598.40,151.99 L598.70,151.49 L599.00,151.33 L599.30,150.73 L599.60,148.30 L599.90,151.98 L600.20,147.32 L600.50,150.72 L600.80,152.89 L601.10,152.78 L601.40,149.15 L601.70,149.36 L602.00,149.49 L602.30,150.63 L602.60,148.55 L602.90,149.68 L603.20,152.55 L603.50,149.42 L603.80,151.43 L604.10,149.19 L604.40,153.07 L604.70,149.77 L605.00,151.87 L605.30,148.40 L605.60,150.42 L605.90,151.33 L606.20,153.69 L606.50,148.04 L606.80,152.34 L607.10,150.75 L607.40,151.96 L607.70,151.68 L608.00,153.82 L608.30,151.88 L608.60,147.73 L608.90,151.00 L609.20,148.38 L609.50,147.16 L609.80,146.36 L610.10,147.91 L610.40,148.55 L610.70,151.98 L611.00,149.15 L611.30,151.80 L611.60,144.86 L611.90,144.95 L612.20,142.96 L612.50,144.47 L612.80,139.28 L613.10,142.25 L613.40,139.75 L613.70,140.62 L614.00,144.04 L614.30,140.79 L614.60,146.94 L614.70,143.95 L614.90,143.48 L615.20,150.36 L615.50,145.97 L615.80,150.58 L616.10,146.88 L616.40,150.61 L616.70,149.02 L617.00,152.13 L617.30,154.10 L617.60,147.69 L617.90,147.47 L618.20,152.25 L618.50,148.95 L618.80,147.52 L619.10,150.61 L619.40,148.88 L619.70,153.20 L620.00,153.40 L620.30,149.29 L620.60,149.02 L620.90,147.89 L621.20,146.18 L621.50,150.30 L621.80,151.59 L622.10,151.15 L622.40,147.89 L622.70,148.40 L623.00,147.30 L623.30,149.92 L623.60,151.74 L623.90,152.12 L624.20,152.05 L624.50,149.19 L624.80,148.99 L625.10,152.13 L625.40,153.85 L625.70,149.65 L626.00,149.21 L626.30,147.01 L626.60,147.44 L626.90,150.33 L627.20,147.05 L627.50,150.04 L627.80,148.13 L628.10,147.19 L628.40,148.45 L628.70,148.27 L629.00,146.25 L629.30,145.76 L629.60,143.91 L629.90,145.22 L630.20,144.40 L630.50,146.58 L630.80,142.37 L631.10,137.57 L631.40,137.24 L631.70,139.73 L632.00,141.62 L632.30,143.24 L632.60,142.37 L632.90,144.11 L633.20,145.34 L633.50,144.36 L633.80,150.88 L634.10,150.89 L634.40,148.36 L634.70,148.37 L635.00,149.30 L635.30,151.82 L635.60,152.91 L635.90,152.29 L636.20,152.83 L636.50,150.66 L636.80,148.77 L637.10,151.43 L637.40,149.72 L637.70,153.22 L638.00,148.26 L638.30,145.91 L638.60,149.37 L638.90,150.45 L639.20,152.86 L639.50,147.74 L639.80,149.69 L640.10,150.54 L640.40,151.00 L640.70,147.00 L641.00,147.86 L641.30,150.01 L641.60,152.22 L641.90,152.98 L642.20,153.55 L642.50,148.71 L642.80,146.21 L643.10,145.80 L643.40,146.88 L643.70,149.85 L644.00,150.68 L644.30,148.76 L644.60,148.78 L644.90,150.16 L645.20,148.80 L645.50,151.53 L645.80,150.51 L646.10,152.39 L646.40,148.47 L646.70,146.06 L647.00,145.42 L647.30,150.99 L647.60,152.05 L647.90,151.83 L648.20,146.91 L648.50,143.21 L648.80,147.54 L649.10,147.56 L649.40,142.17 L649.70,142.44 L650.00,137.76 L650.30,135.75 L650.60,140.76 L650.90,143.92 L651.20,144.25 L651.50,145.21 L651.60,145.06 L651.80,145.31 L652.10,149.71 L652.40,152.29 L652.70,152.03 L653.00,149.43 L653.30,152.05 L653.60,152.13 L653.90,153.82 L654.20,151.59 L654.50,153.89 L654.80,153.39 L655.10,149.56 L655.40,147.65 L655.70,146.92 L656.00,152.00 L656.30,148.36 L656.60,147.08 L656.90,147.39 L657.20,152.54 L657.50,151.78 L657.80,148.85 L658.10,151.72 L658.40,153.36 L658.70,152.11 L659.00,149.13 L659.30,149.80 L659.60,148.12 L659.90,150.80 L660.20,153.54 L660.50,153.14 L660.80,150.53 L661.10,152.52 L661.40,148.96 L661.70,147.76 L662.00,149.13 L662.30,152.27 L662.60,149.63 L662.90,147.11 L663.20,150.33 L663.50,152.40 L663.80,154.11 L664.10,148.90 L664.40,152.78 L664.70,149.51 L665.00,147.74 L665.30,152.44 L665.60,153.51 L665.90,153.39 L666.20,151.90 L666.50,148.70 L666.80,147.50 L667.10,146.08 L667.40,148.68 L667.70,148.95 L668.00,147.52 L668.30,142.20 L668.60,141.55 L668.90,137.49 L669.20,142.51 L669.50,144.04 L669.80,142.47 L670.10,141.10 L670.40,142.51 L670.70,148.55 L671.00,148.45 L671.30,145.61 L671.60,145.50 L671.90,151.65 L672.20,151.99 L672.50,150.63 L672.80,150.89 L673.10,152.00 L673.40,147.10 L673.70,148.29 L674.00,150.10 L674.30,153.49 L674.60,152.42" fill="none" stroke="#cc1626" stroke-width="1.0" stroke-linejoin="round"/>
<path d="M503.00,155.32 L503.30,154.15 L503.60,155.35 L503.90,156.20 L504.20,154.77 L504.50,154.83 L504.80,153.64 L505.10,155.04 L505.40,154.60 L505.70,153.63 L506.00,153.10 L506.30,154.94 L506.60,154.70 L506.90,155.74 L507.20,155.86 L507.50,155.62 L507.80,154.91 L508.10,150.33 L508.40,144.79 L508.70,135.07 L509.00,122.86 L509.30,107.23 L509.60,91.24 L509.90,79.12 L510.20,74.58 L510.50,79.22 L510.80,91.25 L511.10,107.19 L511.40,122.85 L511.70,134.63 L512.00,144.18 L512.30,150.29 L512.60,153.57 L512.90,154.22 L513.20,155.88 L513.50,155.62 L513.80,154.25 L514.10,155.22 L514.40,155.43 L514.70,155.04 L515.00,155.73 L515.30,153.43 L515.60,151.35 L515.90,151.61 L516.20,150.94 L516.50,149.00 L516.80,149.55 L517.10,147.69 L517.40,147.87 L517.70,148.04 L518.00,145.77 L518.30,144.10 L518.60,142.75 L518.90,142.05 L519.20,141.51 L519.50,140.05 L519.80,139.56 L520.10,141.02 L520.40,139.89 L520.70,138.88 L521.00,136.26 L521.30,135.52 L521.60,133.95 L521.90,131.78 L522.20,132.68 L522.50,130.65 L522.80,135.39 L523.10,137.43 L523.40,143.34 L523.70,144.42 L524.00,144.84 L524.30,144.79 L524.60,143.25 L524.90,140.37 L525.20,133.62 L525.50,122.04 L525.80,105.39 L526.10,86.90 L526.40,69.80 L526.70,59.00 L526.90,57.22 L527.00,57.82 L527.30,66.61 L527.60,83.48 L527.90,103.31 L528.20,121.78 L528.50,136.20 L528.80,144.30 L529.10,150.07 L529.40,153.69 L529.70,155.63 L530.00,154.23 L530.30,153.60 L530.60,153.69 L530.90,153.58 L531.20,154.15 L531.50,155.32 L531.80,154.16 L532.10,154.86 L532.40,152.98 L532.70,151.35 L533.00,151.45 L533.30,151.67 L533.60,150.36 L533.90,148.64 L534.20,148.20 L534.50,148.45 L534.80,148.10 L535.10,146.44 L535.40,144.04 L535.70,144.10 L536.00,142.10 L536.30,142.49 L536.60,141.72 L536.90,140.36 L537.20,140.49 L537.50,138.29 L537.80,137.49 L538.10,136.34 L538.40,135.79 L538.70,135.18 L539.00,133.65 L539.30,133.36 L539.60,131.39 L539.90,131.44 L540.20,136.66 L540.50,142.22 L540.80,142.31 L541.10,142.51 L541.40,143.49 L541.70,144.19 L542.00,140.20 L542.30,133.66 L542.60,121.92 L542.90,105.82 L543.20,87.28 L543.50,70.01 L543.80,59.20 L544.00,57.40 L544.10,57.94 L544.40,66.94 L544.70,83.79 L545.00,103.58 L545.30,121.85 L545.60,135.14 L545.90,144.97 L546.20,150.71 L546.50,152.56 L546.80,154.59 L547.10,155.42 L547.40,155.34 L547.70,156.20 L548.00,155.87 L548.30,156.20 L548.60,154.77 L548.90,154.26 L549.20,155.90 L549.50,155.30 L549.80,153.50 L550.10,151.77 L550.40,152.19 L550.70,150.69 L551.00,150.65 L551.30,148.35 L551.60,147.72 L551.90,147.18 L552.20,145.33 L552.50,144.97 L552.80,145.02 L553.10,143.72 L553.40,141.73 L553.70,140.82 L554.00,140.44 L554.30,141.02 L554.60,140.42 L554.90,137.59 L555.20,137.50 L555.50,134.94 L555.80,134.72 L556.10,135.00 L556.40,134.13 L556.70,133.72 L557.00,131.85 L557.30,135.41 L557.60,141.64 L557.90,142.23 L558.20,142.17 L558.50,143.70 L558.80,144.36 L559.10,140.39 L559.40,136.11 L559.70,126.10 L560.00,111.43 L560.30,93.44 L560.60,75.13 L560.90,61.85 L561.20,57.47 L561.50,63.04 L561.80,77.70 L562.10,96.94 L562.40,116.18 L562.70,131.15 L563.00,141.30 L563.30,149.59 L563.60,152.65 L563.90,155.33 L564.20,155.23 L564.50,154.46 L564.80,155.27 L565.10,154.29 L565.40,154.64 L565.70,154.23 L566.00,154.28 L566.30,155.23 L566.60,155.85 L566.90,154.80 L567.20,153.63 L567.50,153.02 L567.80,150.83 L568.10,151.21 L568.40,149.82 L568.70,149.35 L569.00,148.88 L569.30,147.72 L569.60,147.00 L569.90,147.27 L570.20,145.21 L570.50,145.69 L570.80,144.12 L571.10,142.13 L571.40,142.24 L571.70,140.90 L572.00,140.02 L572.30,137.54 L572.60,137.23 L572.90,135.61 L573.20,135.67 L573.50,133.58 L573.80,133.68 L574.10,134.33 L574.40,132.28 L574.70,133.83 L575.00,136.83 L575.30,141.57 L575.60,141.43 L575.90,143.50 L576.20,144.35 L576.50,143.64 L576.80,140.38 L577.10,131.88 L577.40,120.39 L577.70,103.99 L578.00,84.58 L578.30,66.47 L578.60,54.95 L578.80,53.21 L578.90,53.77 L579.20,63.24 L579.50,80.72 L579.80,101.55 L580.10,120.54 L580.40,135.66 L580.70,144.04 L581.00,150.03 L581.30,152.00 L581.60,154.42 L581.90,155.00 L582.20,153.95 L582.50,154.59 L582.80,154.75 L583.10,156.08 L583.40,154.63 L583.70,155.80 L584.00,154.20 L584.30,155.56 L584.60,154.89 L584.90,154.55 L585.20,154.71 L585.50,153.50 L585.80,153.21 L586.10,152.42 L586.40,151.60 L586.70,148.93 L587.00,146.74 L587.30,144.74 L587.60,144.73 L587.90,143.77 L588.20,142.29 L588.50,143.09 L588.80,142.93 L589.10,143.02 L589.40,139.97 L589.70,140.72 L590.00,137.48 L590.30,138.19 L590.60,137.05 L590.90,136.08 L591.20,135.57 L591.50,135.63 L591.80,131.51 L592.10,132.62 L592.40,132.01 L592.70,134.14 L593.00,138.58 L593.30,142.27 L593.60,141.91 L593.90,142.95 L594.20,143.06 L594.50,139.57 L594.80,135.57 L595.10,124.78 L595.40,109.78 L595.70,90.18 L596.00,71.24 L596.30,57.03 L596.60,52.46 L596.90,58.16 L597.20,73.29 L597.50,93.72 L597.80,114.14 L598.10,129.71 L598.40,142.18 L598.70,148.71 L599.00,152.01 L599.30,152.63 L599.60,154.25 L599.90,153.54 L600.20,153.36 L600.50,155.21 L600.80,156.02 L601.10,156.20 L601.40,155.24 L601.70,155.13 L602.00,156.20 L602.30,156.20 L602.60,155.90 L602.90,155.54 L603.20,155.23 L603.50,153.12 L603.80,151.39 L604.10,149.71 L604.40,148.45 L604.70,148.58 L605.00,148.02 L605.30,147.68 L605.60,147.41 L605.90,146.28 L606.20,143.34 L606.50,142.68 L606.80,141.45 L607.10,141.16 L607.40,139.02 L607.70,139.02 L608.00,139.80 L608.30,137.98 L608.60,137.02 L608.90,136.53 L609.20,134.28 L609.50,134.36 L609.80,131.31 L610.10,132.24 L610.40,131.54 L610.70,136.04 L611.00,138.75 L611.30,142.72 L611.60,143.70 L611.90,143.37 L612.20,141.94 L612.50,141.51 L612.80,136.07 L613.10,128.90 L613.40,113.99 L613.70,95.33 L614.00,75.07 L614.30,57.97 L614.60,49.54 L614.70,49.16 L614.90,51.98 L615.20,64.86 L615.50,84.66 L615.80,106.20 L616.10,124.65 L616.40,138.14 L616.70,146.15 L617.00,151.76 L617.30,153.99 L617.60,155.30 L617.90,154.82 L618.20,153.67 L618.50,154.28 L618.80,154.26 L619.10,153.86 L619.40,154.07 L619.70,153.92 L620.00,153.60 L620.30,154.21 L620.60,154.22 L620.90,153.36 L621.20,153.51 L621.50,154.28 L621.80,152.03 L622.10,151.60 L622.40,151.96 L622.70,150.37 L623.00,148.74 L623.30,147.34 L623.60,146.82 L623.90,145.56 L624.20,144.62 L624.50,144.97 L624.80,144.03 L625.10,141.34 L625.40,140.44 L625.70,139.64 L626.00,139.31 L626.30,137.88 L626.60,137.63 L626.90,136.43 L627.20,136.23 L627.50,135.74 L627.80,134.93 L628.10,133.10 L628.40,132.61 L628.70,135.04 L629.00,137.27 L629.30,139.31 L629.60,140.52 L629.90,143.53 L630.20,144.00 L630.50,142.90 L630.80,140.65 L631.10,133.13 L631.40,123.92 L631.70,107.72 L632.00,87.81 L632.30,67.52 L632.60,52.47 L632.90,47.64 L633.20,53.67 L633.50,69.59 L633.80,91.08 L634.10,112.25 L634.40,129.73 L634.70,140.39 L635.00,148.17 L635.30,153.03 L635.60,153.08 L635.90,153.03 L636.20,154.90 L636.50,156.20 L636.80,156.20 L637.10,156.20 L637.40,156.20 L637.70,156.20 L638.00,156.20 L638.30,156.20 L638.60,156.20 L638.90,156.20 L639.20,156.20 L639.50,156.20 L639.80,154.36 L640.10,153.86 L640.40,153.38 L640.70,152.80 L641.00,151.10 L641.30,149.03 L641.60,147.78 L641.90,146.38 L642.20,147.02 L642.50,145.64 L642.80,145.41 L643.10,144.57 L643.40,143.52 L643.70,142.29 L644.00,140.25 L644.30,140.21 L644.60,139.76 L644.90,137.74 L645.20,136.51 L645.50,137.05 L645.80,136.70 L646.10,135.11 L646.40,134.82 L646.70,132.45 L647.00,131.80 L647.30,130.97 L647.60,133.86 L647.90,138.76 L648.20,140.96 L648.50,142.66 L648.80,142.01 L649.10,141.54 L649.40,139.75 L649.70,134.67 L650.00,127.26 L650.30,111.90 L650.60,91.24 L650.90,69.39 L651.20,51.03 L651.50,41.87 L651.60,41.50 L651.80,44.28 L652.10,58.19 L652.40,79.71 L652.70,102.65 L653.00,122.42 L653.30,135.67 L653.60,145.79 L653.90,149.98 L654.20,152.69 L654.50,154.53 L654.80,154.13 L655.10,153.43 L655.40,154.97 L655.70,156.17 L656.00,156.20 L656.30,155.27 L656.60,155.14 L656.90,154.06 L657.20,154.89 L657.50,154.41 L657.80,154.87 L658.10,153.84 L658.40,155.22 L658.70,153.36 L659.00,153.80 L659.30,152.39 L659.60,150.44 L659.90,148.60 L660.20,148.47 L660.50,148.91 L660.80,148.16 L661.10,147.93 L661.40,147.52 L661.70,146.19 L662.00,146.10 L662.30,145.59 L662.60,143.79 L662.90,142.46 L663.20,141.52 L663.50,139.05 L663.80,139.69 L664.10,139.14 L664.40,137.00 L664.70,134.67 L665.00,134.41 L665.30,131.86 L665.60,133.12 L665.90,132.88 L666.20,133.74 L666.50,136.42 L666.80,141.45 L667.10,141.89 L667.40,143.32 L667.70,143.61 L668.00,143.79 L668.30,140.46 L668.60,133.41 L668.90,123.54 L669.20,106.92 L669.50,86.50 L669.80,66.02 L670.10,51.05 L670.40,46.02 L670.70,51.93 L671.00,68.50 L671.30,90.30 L671.60,111.82 L671.90,129.97 L672.20,141.78 L672.50,149.80 L672.80,153.94 L673.10,155.34 L673.40,155.25 L673.70,154.25 L674.00,154.98 L674.30,154.40 L674.60,154.53" fill="none" stroke="#22336f" stroke-width="0.95" stroke-linejoin="round"/>
<line x1="548" y1="30.5" x2="567" y2="30.5" stroke="#2b3d7c" stroke-width="0.9"/>
<line x1="548" y1="40" x2="567" y2="40" stroke="#e0484e" stroke-width="0.9"/>
<text x="572.40" y="33.70" font-size="9.9" text-anchor="start" >TE</text>
<text x="572.40" y="44.10" font-size="9.9" text-anchor="start" >TM</text>
<text x="504.00" y="50.80" font-size="9.3" text-anchor="start" ><tspan font-style="italic">m</tspan> = 202</text>
<text x="620.50" y="34.40" font-size="9.3" text-anchor="start" ><tspan font-style="italic">m</tspan> = 193</text>
<line x1="513.6" y1="55.6" x2="512.7" y2="64.5" stroke="#111" stroke-width="1.15"/>
<polygon points="512,71.3 509.3,62.7 516.4,63.4" fill="#111"/>
<line x1="658.2" y1="32" x2="666" y2="39.8" stroke="#111" stroke-width="1.2"/>
<polygon points="671.2,45 663,41.8 668,36.8" fill="#111"/>
<rect x="44.0" y="225.0" width="151.5" height="122.80000000000001" fill="none" stroke="#222" stroke-width="0.9"/>
<line x1="44.0" y1="336.60" x2="47.0" y2="336.60" stroke="#222" stroke-width="0.8"/>
<text x="39.00" y="340.40" font-size="10.6" text-anchor="end" >0</text>
<line x1="44.0" y1="292.25" x2="47.0" y2="292.25" stroke="#222" stroke-width="0.8"/>
<text x="39.00" y="296.05" font-size="10.6" text-anchor="end" >1</text>
<line x1="44.0" y1="247.90" x2="47.0" y2="247.90" stroke="#222" stroke-width="0.8"/>
<text x="39.00" y="251.70" font-size="10.6" text-anchor="end" >2</text>
<line x1="44.0" y1="314.43" x2="45.7" y2="314.43" stroke="#222" stroke-width="0.8"/>
<line x1="44.0" y1="270.08" x2="45.7" y2="270.08" stroke="#222" stroke-width="0.8"/>
<line x1="57.60" y1="347.8" x2="57.60" y2="344.8" stroke="#222" stroke-width="0.8"/>
<text x="57.60" y="361.00" font-size="10.6" text-anchor="middle" >0</text>
<line x1="85.45" y1="347.8" x2="85.45" y2="344.8" stroke="#222" stroke-width="0.8"/>
<text x="85.45" y="361.00" font-size="10.6" text-anchor="middle" >20</text>
<line x1="113.30" y1="347.8" x2="113.30" y2="344.8" stroke="#222" stroke-width="0.8"/>
<text x="113.30" y="361.00" font-size="10.6" text-anchor="middle" >40</text>
<line x1="141.15" y1="347.8" x2="141.15" y2="344.8" stroke="#222" stroke-width="0.8"/>
<text x="141.15" y="361.00" font-size="10.6" text-anchor="middle" >60</text>
<line x1="169.00" y1="347.8" x2="169.00" y2="344.8" stroke="#222" stroke-width="0.8"/>
<text x="169.00" y="361.00" font-size="10.6" text-anchor="middle" >80</text>
<line x1="71.53" y1="347.8" x2="71.53" y2="346.1" stroke="#222" stroke-width="0.8"/>
<line x1="99.38" y1="347.8" x2="99.38" y2="346.1" stroke="#222" stroke-width="0.8"/>
<line x1="127.22" y1="347.8" x2="127.22" y2="346.1" stroke="#222" stroke-width="0.8"/>
<line x1="155.08" y1="347.8" x2="155.08" y2="346.1" stroke="#222" stroke-width="0.8"/>
<line x1="182.93" y1="347.8" x2="182.93" y2="346.1" stroke="#222" stroke-width="0.8"/>
<text x="120.50" y="376.50" font-size="10.6" text-anchor="middle" >Polarization angle (°)</text>
<text transform="translate(23.3,288) rotate(-90)" font-size="10.6" text-anchor="middle">Peak intensity (counts×10<tspan font-size="7.8" dy="-4.2">4</tspan><tspan dy="4.2">)</tspan></text>
<path d="M57.60,240.80 L71.53,277.17 L85.45,295.80 L99.38,295.35 L113.30,297.57 L127.22,304.22 L141.15,313.09 L155.08,320.19 L157.86,325.07 L160.65,329.06 L169.00,332.17 L182.93,329.06" fill="none" stroke="#4f93d6" stroke-width="0.9"/>
<circle cx="57.60" cy="240.80" r="1.7" fill="#4f93d6"/>
<circle cx="71.53" cy="277.17" r="1.7" fill="#4f93d6"/>
<circle cx="85.45" cy="295.80" r="1.7" fill="#4f93d6"/>
<circle cx="99.38" cy="295.35" r="1.7" fill="#4f93d6"/>
<circle cx="113.30" cy="297.57" r="1.7" fill="#4f93d6"/>
<circle cx="127.22" cy="304.22" r="1.7" fill="#4f93d6"/>
<circle cx="141.15" cy="313.09" r="1.7" fill="#4f93d6"/>
<circle cx="155.08" cy="320.19" r="1.7" fill="#4f93d6"/>
<circle cx="157.86" cy="325.07" r="1.7" fill="#4f93d6"/>
<circle cx="160.65" cy="329.06" r="1.7" fill="#4f93d6"/>
<circle cx="169.00" cy="332.17" r="1.7" fill="#4f93d6"/>
<circle cx="182.93" cy="329.06" r="1.7" fill="#4f93d6"/>
<path d="M57.60,232.82 L71.53,290.03 L85.45,307.77 L99.38,303.34 L113.30,310.88 L127.22,314.43 L141.15,315.53 L155.08,322.85 L157.86,327.73 L160.65,329.95 L169.00,331.28 L182.93,330.39" fill="none" stroke="#f3a3bb" stroke-width="0.9"/>
<polygon points="57.60,230.62 55.60,234.22 59.60,234.22" fill="#f3a3bb"/>
<polygon points="71.53,287.83 69.53,291.43 73.53,291.43" fill="#f3a3bb"/>
<polygon points="85.45,305.57 83.45,309.17 87.45,309.17" fill="#f3a3bb"/>
<polygon points="99.38,301.14 97.38,304.74 101.38,304.74" fill="#f3a3bb"/>
<polygon points="113.30,308.68 111.30,312.28 115.30,312.28" fill="#f3a3bb"/>
<polygon points="127.22,312.23 125.22,315.82 129.22,315.82" fill="#f3a3bb"/>
<polygon points="141.15,313.33 139.15,316.93 143.15,316.93" fill="#f3a3bb"/>
<polygon points="155.08,320.65 153.08,324.25 157.08,324.25" fill="#f3a3bb"/>
<polygon points="157.86,325.53 155.86,329.13 159.86,329.13" fill="#f3a3bb"/>
<polygon points="160.65,327.75 158.65,331.35 162.65,331.35" fill="#f3a3bb"/>
<polygon points="169.00,329.08 167.00,332.68 171.00,332.68" fill="#f3a3bb"/>
<polygon points="182.93,328.19 180.93,331.79 184.93,331.79" fill="#f3a3bb"/>
<path d="M57.60,240.80 L71.53,259.43 L85.45,277.17 L99.38,285.15 L113.30,294.91 L127.22,292.69 L141.15,297.13 L155.08,309.55 L157.86,325.51 L160.65,328.17 L169.00,327.95 L182.93,327.06" fill="none" stroke="#1e2a6a" stroke-width="0.9"/>
<rect x="56.00" y="239.20" width="3.2" height="3.2" fill="#1e2a6a"/>
<rect x="69.93" y="257.83" width="3.2" height="3.2" fill="#1e2a6a"/>
<rect x="83.85" y="275.57" width="3.2" height="3.2" fill="#1e2a6a"/>
<rect x="97.78" y="283.55" width="3.2" height="3.2" fill="#1e2a6a"/>
<rect x="111.70" y="293.31" width="3.2" height="3.2" fill="#1e2a6a"/>
<rect x="125.62" y="291.09" width="3.2" height="3.2" fill="#1e2a6a"/>
<rect x="139.55" y="295.53" width="3.2" height="3.2" fill="#1e2a6a"/>
<rect x="153.48" y="307.95" width="3.2" height="3.2" fill="#1e2a6a"/>
<rect x="156.26" y="323.91" width="3.2" height="3.2" fill="#1e2a6a"/>
<rect x="159.05" y="326.57" width="3.2" height="3.2" fill="#1e2a6a"/>
<rect x="167.40" y="326.35" width="3.2" height="3.2" fill="#1e2a6a"/>
<rect x="181.33" y="325.46" width="3.2" height="3.2" fill="#1e2a6a"/>
<path d="M57.60,238.14 L71.53,265.64 L85.45,284.27 L99.38,288.26 L113.30,299.35 L127.22,299.35 L141.15,305.11 L155.08,314.87 L157.86,329.28 L160.65,329.50 L169.00,329.95 L182.93,333.05" fill="none" stroke="#c31f2e" stroke-width="0.9"/>
<polygon points="57.60,240.34 55.50,236.74 59.70,236.74" fill="#c31f2e"/>
<polygon points="71.53,267.84 69.43,264.24 73.62,264.24" fill="#c31f2e"/>
<polygon points="85.45,286.47 83.35,282.87 87.55,282.87" fill="#c31f2e"/>
<polygon points="99.38,290.46 97.28,286.86 101.47,286.86" fill="#c31f2e"/>
<polygon points="113.30,301.55 111.20,297.95 115.40,297.95" fill="#c31f2e"/>
<polygon points="127.22,301.55 125.12,297.95 129.32,297.95" fill="#c31f2e"/>
<polygon points="141.15,307.31 139.05,303.71 143.25,303.71" fill="#c31f2e"/>
<polygon points="155.08,317.07 152.98,313.47 157.18,313.47" fill="#c31f2e"/>
<polygon points="157.86,331.48 155.76,327.88 159.96,327.88" fill="#c31f2e"/>
<polygon points="160.65,331.70 158.55,328.10 162.75,328.10" fill="#c31f2e"/>
<polygon points="169.00,332.15 166.90,328.55 171.10,328.55" fill="#c31f2e"/>
<polygon points="182.93,335.25 180.83,331.65 185.03,331.65" fill="#c31f2e"/>
<line x1="129.8" y1="235.5" x2="145" y2="235.5" stroke="#1e2a6a" stroke-width="0.9"/>
<rect x="135.80" y="233.90" width="3.2" height="3.2" fill="#1e2a6a"/>
<text x="148.90" y="239.00" font-size="9.7" text-anchor="start" ><tspan font-style="italic">m</tspan> = 190</text>
<line x1="129.8" y1="246.6" x2="145" y2="246.6" stroke="#4f93d6" stroke-width="0.9"/>
<circle cx="137.40" cy="246.60" r="1.7" fill="#4f93d6"/>
<text x="148.90" y="250.10" font-size="9.7" text-anchor="start" ><tspan font-style="italic">m</tspan> = 191</text>
<line x1="129.8" y1="258.0" x2="145" y2="258.0" stroke="#f3a3bb" stroke-width="0.9"/>
<polygon points="137.40,255.80 135.40,259.40 139.40,259.40" fill="#f3a3bb"/>
<text x="148.90" y="261.50" font-size="9.7" text-anchor="start" ><tspan font-style="italic">m</tspan> = 192</text>
<line x1="129.8" y1="269.5" x2="145" y2="269.5" stroke="#c31f2e" stroke-width="0.9"/>
<polygon points="137.40,271.70 135.30,268.10 139.50,268.10" fill="#c31f2e"/>
<text x="148.90" y="273.00" font-size="9.7" text-anchor="start" ><tspan font-style="italic">m</tspan> = 193</text>
<line x1="270.09" y1="344.11" x2="270.09" y2="238.51" stroke="#d8d8d8" stroke-width="0.6"/>
<line x1="290.86" y1="337.54" x2="290.86" y2="231.94" stroke="#d8d8d8" stroke-width="0.6"/>
<line x1="311.63" y1="330.97" x2="311.63" y2="225.37" stroke="#d8d8d8" stroke-width="0.6"/>
<line x1="259.70" y1="337.80" x2="332.40" y2="314.80" stroke="#d8d8d8" stroke-width="0.6"/>
<line x1="332.40" y1="314.80" x2="415.50" y2="334.80" stroke="#d8d8d8" stroke-width="0.6"/>
<line x1="259.70" y1="318.60" x2="332.40" y2="295.60" stroke="#d8d8d8" stroke-width="0.6"/>
<line x1="332.40" y1="295.60" x2="415.50" y2="315.60" stroke="#d8d8d8" stroke-width="0.6"/>
<line x1="259.70" y1="299.40" x2="332.40" y2="276.40" stroke="#d8d8d8" stroke-width="0.6"/>
<line x1="332.40" y1="276.40" x2="415.50" y2="296.40" stroke="#d8d8d8" stroke-width="0.6"/>
<line x1="259.70" y1="280.20" x2="332.40" y2="257.20" stroke="#d8d8d8" stroke-width="0.6"/>
<line x1="332.40" y1="257.20" x2="415.50" y2="277.20" stroke="#d8d8d8" stroke-width="0.6"/>
<line x1="259.70" y1="261.00" x2="332.40" y2="238.00" stroke="#d8d8d8" stroke-width="0.6"/>
<line x1="332.40" y1="238.00" x2="415.50" y2="258.00" stroke="#d8d8d8" stroke-width="0.6"/>
<line x1="353.18" y1="329.40" x2="353.18" y2="223.80" stroke="#d8d8d8" stroke-width="0.6"/>
<line x1="280.48" y1="352.40" x2="353.18" y2="329.40" stroke="#d8d8d8" stroke-width="0.6"/>
<line x1="373.95" y1="334.40" x2="373.95" y2="228.80" stroke="#d8d8d8" stroke-width="0.6"/>
<line x1="301.25" y1="357.40" x2="373.95" y2="334.40" stroke="#d8d8d8" stroke-width="0.6"/>
<line x1="394.72" y1="339.40" x2="394.72" y2="233.80" stroke="#d8d8d8" stroke-width="0.6"/>
<line x1="322.02" y1="362.40" x2="394.72" y2="339.40" stroke="#d8d8d8" stroke-width="0.6"/>
<line x1="270.09" y1="344.11" x2="353.19" y2="364.11" stroke="#d8d8d8" stroke-width="0.6"/>
<line x1="290.86" y1="337.54" x2="373.96" y2="357.54" stroke="#d8d8d8" stroke-width="0.6"/>
<line x1="311.63" y1="330.97" x2="394.73" y2="350.97" stroke="#d8d8d8" stroke-width="0.6"/>
<line x1="259.70" y1="241.80" x2="332.40" y2="218.80" stroke="#a8a8a8" stroke-width="0.7"/>
<line x1="332.40" y1="218.80" x2="415.50" y2="238.80" stroke="#a8a8a8" stroke-width="0.7"/>
<line x1="332.40" y1="324.40" x2="332.40" y2="218.80" stroke="#a8a8a8" stroke-width="0.7"/>
<line x1="415.50" y1="344.40" x2="415.50" y2="238.80" stroke="#a8a8a8" stroke-width="0.7"/>
<line x1="259.70" y1="347.40" x2="332.40" y2="324.40" stroke="#a8a8a8" stroke-width="0.7"/>
<line x1="332.40" y1="324.40" x2="415.50" y2="344.40" stroke="#a8a8a8" stroke-width="0.7"/>
<g><polygon points="328.1,225.9 330.6,235.7 335.0,232.7 332.4,222.6" fill="#80d8f8" stroke="#80d8f8" stroke-width="0.9" stroke-linejoin="round"/><polygon points="323.7,229.0 326.3,238.7 330.6,235.7 328.1,225.9" fill="#81d8f8" stroke="#81d8f8" stroke-width="0.9" stroke-linejoin="round"/><polygon points="319.4,232.0 321.9,241.5 326.3,238.7 323.7,229.0" fill="#82d8f7" stroke="#82d8f7" stroke-width="0.9" stroke-linejoin="round"/><polygon points="315.0,234.9 317.6,244.3 321.9,241.5 319.4,232.0" fill="#84d8f7" stroke="#84d8f7" stroke-width="0.9" stroke-linejoin="round"/><polygon points="310.7,237.6 313.3,246.9 317.6,244.3 315.0,234.9" fill="#85d8f7" stroke="#85d8f7" stroke-width="0.9" stroke-linejoin="round"/><polygon points="306.3,240.3 308.9,249.4 313.3,246.9 310.7,237.6" fill="#86d8f6" stroke="#86d8f6" stroke-width="0.9" stroke-linejoin="round"/><polygon points="302.0,242.8 304.6,251.8 308.9,249.4 306.3,240.3" fill="#87d9f6" stroke="#87d9f6" stroke-width="0.9" stroke-linejoin="round"/><polygon points="297.6,245.2 300.2,254.1 304.6,251.8 302.0,242.8" fill="#88d9f6" stroke="#88d9f6" stroke-width="0.9" stroke-linejoin="round"/><polygon points="293.3,247.4 295.9,256.3 300.2,254.1 297.6,245.2" fill="#88d9f6" stroke="#88d9f6" stroke-width="0.9" stroke-linejoin="round"/><polygon points="288.9,249.6 291.5,258.4 295.9,256.3 293.3,247.4" fill="#89d9f6" stroke="#89d9f6" stroke-width="0.9" stroke-linejoin="round"/><polygon points="284.6,251.6 287.2,260.4 291.5,258.4 288.9,249.6" fill="#8ad9f5" stroke="#8ad9f5" stroke-width="0.9" stroke-linejoin="round"/><polygon points="280.2,253.6 282.8,262.2 287.2,260.4 284.6,251.6" fill="#8ad9f5" stroke="#8ad9f5" stroke-width="0.9" stroke-linejoin="round"/><polygon points="275.9,255.3 278.5,264.0 282.8,262.2 280.2,253.6" fill="#8ad9f5" stroke="#8ad9f5" stroke-width="0.9" stroke-linejoin="round"/><polygon points="271.5,257.0 274.1,265.7 278.5,264.0 275.9,255.3" fill="#8bd9f5" stroke="#8bd9f5" stroke-width="0.9" stroke-linejoin="round"/><polygon points="267.2,258.6 269.8,267.2 274.1,265.7 271.5,257.0" fill="#8bd9f5" stroke="#8bd9f5" stroke-width="0.9" stroke-linejoin="round"/><polygon points="262.8,260.0 265.4,268.6 269.8,267.2 267.2,258.6" fill="#8bd9f5" stroke="#8bd9f5" stroke-width="0.9" stroke-linejoin="round"/><polygon points="330.6,235.7 333.2,244.7 337.6,241.8 335.0,232.7" fill="#87d9f6" stroke="#87d9f6" stroke-width="0.9" stroke-linejoin="round"/><polygon points="326.3,238.7 328.9,247.5 333.2,244.7 330.6,235.7" fill="#88d9f6" stroke="#88d9f6" stroke-width="0.9" stroke-linejoin="round"/><polygon points="321.9,241.5 324.5,250.3 328.9,247.5 326.3,238.7" fill="#89d9f5" stroke="#89d9f5" stroke-width="0.9" stroke-linejoin="round"/><polygon points="317.6,244.3 320.2,252.9 324.5,250.3 321.9,241.5" fill="#8bd9f5" stroke="#8bd9f5" stroke-width="0.9" stroke-linejoin="round"/><polygon points="313.3,246.9 315.8,255.4 320.2,252.9 317.6,244.3" fill="#8cd9f5" stroke="#8cd9f5" stroke-width="0.9" stroke-linejoin="round"/><polygon points="308.9,249.4 311.5,257.8 315.8,255.4 313.3,246.9" fill="#8dd9f5" stroke="#8dd9f5" stroke-width="0.9" stroke-linejoin="round"/><polygon points="304.6,251.8 307.2,260.1 311.5,257.8 308.9,249.4" fill="#8dd9f4" stroke="#8dd9f4" stroke-width="0.9" stroke-linejoin="round"/><polygon points="300.2,254.1 302.8,262.3 307.2,260.1 304.6,251.8" fill="#8ed9f4" stroke="#8ed9f4" stroke-width="0.9" stroke-linejoin="round"/><polygon points="295.9,256.3 298.5,264.4 302.8,262.3 300.2,254.1" fill="#8fd9f4" stroke="#8fd9f4" stroke-width="0.9" stroke-linejoin="round"/><polygon points="291.5,258.4 294.1,266.5 298.5,264.4 295.9,256.3" fill="#90d9f4" stroke="#90d9f4" stroke-width="0.9" stroke-linejoin="round"/><polygon points="287.2,260.4 289.8,268.4 294.1,266.5 291.5,258.4" fill="#90d9f4" stroke="#90d9f4" stroke-width="0.9" stroke-linejoin="round"/><polygon points="282.8,262.2 285.4,270.2 289.8,268.4 287.2,260.4" fill="#91d9f4" stroke="#91d9f4" stroke-width="0.9" stroke-linejoin="round"/><polygon points="278.5,264.0 281.1,271.9 285.4,270.2 282.8,262.2" fill="#91d9f4" stroke="#91d9f4" stroke-width="0.9" stroke-linejoin="round"/><polygon points="274.1,265.7 276.7,273.5 281.1,271.9 278.5,264.0" fill="#91d9f3" stroke="#91d9f3" stroke-width="0.9" stroke-linejoin="round"/><polygon points="269.8,267.2 272.4,275.1 276.7,273.5 274.1,265.7" fill="#91d9f3" stroke="#91d9f3" stroke-width="0.9" stroke-linejoin="round"/><polygon points="265.4,268.6 268.0,276.5 272.4,275.1 269.8,267.2" fill="#91d9f3" stroke="#91d9f3" stroke-width="0.9" stroke-linejoin="round"/><polygon points="333.2,244.7 335.8,253.0 340.2,250.2 337.6,241.8" fill="#8ed9f4" stroke="#8ed9f4" stroke-width="0.9" stroke-linejoin="round"/><polygon points="328.9,247.5 331.5,255.6 335.8,253.0 333.2,244.7" fill="#8fd9f4" stroke="#8fd9f4" stroke-width="0.9" stroke-linejoin="round"/><polygon points="324.5,250.3 327.1,258.2 331.5,255.6 328.9,247.5" fill="#90d9f4" stroke="#90d9f4" stroke-width="0.9" stroke-linejoin="round"/><polygon points="320.2,252.9 322.8,260.7 327.1,258.2 324.5,250.3" fill="#91d9f3" stroke="#91d9f3" stroke-width="0.9" stroke-linejoin="round"/><polygon points="315.8,255.4 318.4,263.1 322.8,260.7 320.2,252.9" fill="#92d9f3" stroke="#92d9f3" stroke-width="0.9" stroke-linejoin="round"/><polygon points="311.5,257.8 314.1,265.4 318.4,263.1 315.8,255.4" fill="#93d9f3" stroke="#93d9f3" stroke-width="0.9" stroke-linejoin="round"/><polygon points="307.2,260.1 309.7,267.7 314.1,265.4 311.5,257.8" fill="#94daf3" stroke="#94daf3" stroke-width="0.9" stroke-linejoin="round"/><polygon points="302.8,262.3 305.4,269.8 309.7,267.7 307.2,260.1" fill="#94daf3" stroke="#94daf3" stroke-width="0.9" stroke-linejoin="round"/><polygon points="298.5,264.4 301.0,271.9 305.4,269.8 302.8,262.3" fill="#95daf2" stroke="#95daf2" stroke-width="0.9" stroke-linejoin="round"/><polygon points="294.1,266.5 296.7,273.8 301.0,271.9 298.5,264.4" fill="#96daf2" stroke="#96daf2" stroke-width="0.9" stroke-linejoin="round"/><polygon points="289.8,268.4 292.4,275.7 296.7,273.8 294.1,266.5" fill="#96daf2" stroke="#96daf2" stroke-width="0.9" stroke-linejoin="round"/><polygon points="285.4,270.2 288.0,277.5 292.4,275.7 289.8,268.4" fill="#97daf2" stroke="#97daf2" stroke-width="0.9" stroke-linejoin="round"/><polygon points="281.1,271.9 283.7,279.1 288.0,277.5 285.4,270.2" fill="#97daf2" stroke="#97daf2" stroke-width="0.9" stroke-linejoin="round"/><polygon points="276.7,273.5 279.3,280.7 283.7,279.1 281.1,271.9" fill="#97daf2" stroke="#97daf2" stroke-width="0.9" stroke-linejoin="round"/><polygon points="272.4,275.1 275.0,282.3 279.3,280.7 276.7,273.5" fill="#97daf2" stroke="#97daf2" stroke-width="0.9" stroke-linejoin="round"/><polygon points="268.0,276.5 270.6,283.7 275.0,282.3 272.4,275.1" fill="#97daf2" stroke="#97daf2" stroke-width="0.9" stroke-linejoin="round"/><polygon points="335.8,253.0 338.4,260.5 342.8,257.8 340.2,250.2" fill="#94daf3" stroke="#94daf3" stroke-width="0.9" stroke-linejoin="round"/><polygon points="331.5,255.6 334.1,263.0 338.4,260.5 335.8,253.0" fill="#95daf2" stroke="#95daf2" stroke-width="0.9" stroke-linejoin="round"/><polygon points="327.1,258.2 329.7,265.5 334.1,263.0 331.5,255.6" fill="#96daf2" stroke="#96daf2" stroke-width="0.9" stroke-linejoin="round"/><polygon points="322.8,260.7 325.4,267.9 329.7,265.5 327.1,258.2" fill="#97daf2" stroke="#97daf2" stroke-width="0.9" stroke-linejoin="round"/><polygon points="318.4,263.1 321.0,270.2 325.4,267.9 322.8,260.7" fill="#98daf2" stroke="#98daf2" stroke-width="0.9" stroke-linejoin="round"/><polygon points="314.1,265.4 316.7,272.4 321.0,270.2 318.4,263.1" fill="#99daf2" stroke="#99daf2" stroke-width="0.9" stroke-linejoin="round"/><polygon points="309.7,267.7 312.3,274.6 316.7,272.4 314.1,265.4" fill="#9adaf1" stroke="#9adaf1" stroke-width="0.9" stroke-linejoin="round"/><polygon points="305.4,269.8 308.0,276.7 312.3,274.6 309.7,267.7" fill="#9adaf1" stroke="#9adaf1" stroke-width="0.9" stroke-linejoin="round"/><polygon points="301.0,271.9 303.6,278.6 308.0,276.7 305.4,269.8" fill="#9bdaf1" stroke="#9bdaf1" stroke-width="0.9" stroke-linejoin="round"/><polygon points="296.7,273.8 299.3,280.5 303.6,278.6 301.0,271.9" fill="#9bdaf1" stroke="#9bdaf1" stroke-width="0.9" stroke-linejoin="round"/><polygon points="292.4,275.7 294.9,282.4 299.3,280.5 296.7,273.8" fill="#9cdaf1" stroke="#9cdaf1" stroke-width="0.9" stroke-linejoin="round"/><polygon points="288.0,277.5 290.6,284.1 294.9,282.4 292.4,275.7" fill="#9cdaf1" stroke="#9cdaf1" stroke-width="0.9" stroke-linejoin="round"/><polygon points="283.7,279.1 286.3,285.8 290.6,284.1 288.0,277.5" fill="#9ddaf1" stroke="#9ddaf1" stroke-width="0.9" stroke-linejoin="round"/><polygon points="279.3,280.7 281.9,287.3 286.3,285.8 283.7,279.1" fill="#9ddaf1" stroke="#9ddaf1" stroke-width="0.9" stroke-linejoin="round"/><polygon points="275.0,282.3 277.6,288.8 281.9,287.3 279.3,280.7" fill="#9ddaf0" stroke="#9ddaf0" stroke-width="0.9" stroke-linejoin="round"/><polygon points="270.6,283.7 273.2,290.3 277.6,288.8 275.0,282.3" fill="#9ddaf0" stroke="#9ddaf0" stroke-width="0.9" stroke-linejoin="round"/><polygon points="338.4,260.5 341.0,267.4 345.4,264.8 342.8,257.8" fill="#9adaf1" stroke="#9adaf1" stroke-width="0.9" stroke-linejoin="round"/><polygon points="334.1,263.0 336.7,269.8 341.0,267.4 338.4,260.5" fill="#9bdaf1" stroke="#9bdaf1" stroke-width="0.9" stroke-linejoin="round"/><polygon points="329.7,265.5 332.3,272.2 336.7,269.8 334.1,263.0" fill="#9cdaf1" stroke="#9cdaf1" stroke-width="0.9" stroke-linejoin="round"/><polygon points="325.4,267.9 328.0,274.5 332.3,272.2 329.7,265.5" fill="#9ddaf1" stroke="#9ddaf1" stroke-width="0.9" stroke-linejoin="round"/><polygon points="321.0,270.2 323.6,276.7 328.0,274.5 325.4,267.9" fill="#9ddaf0" stroke="#9ddaf0" stroke-width="0.9" stroke-linejoin="round"/><polygon points="316.7,272.4 319.3,278.8 323.6,276.7 321.0,270.2" fill="#9edaf0" stroke="#9edaf0" stroke-width="0.9" stroke-linejoin="round"/><polygon points="312.3,274.6 314.9,280.9 319.3,278.8 316.7,272.4" fill="#9fdaf0" stroke="#9fdaf0" stroke-width="0.9" stroke-linejoin="round"/><polygon points="308.0,276.7 310.6,282.9 314.9,280.9 312.3,274.6" fill="#a0daf0" stroke="#a0daf0" stroke-width="0.9" stroke-linejoin="round"/><polygon points="303.6,278.6 306.2,284.9 310.6,282.9 308.0,276.7" fill="#a0dbf0" stroke="#a0dbf0" stroke-width="0.9" stroke-linejoin="round"/><polygon points="299.3,280.5 301.9,286.7 306.2,284.9 303.6,278.6" fill="#a1dbf0" stroke="#a1dbf0" stroke-width="0.9" stroke-linejoin="round"/><polygon points="294.9,282.4 297.5,288.5 301.9,286.7 299.3,280.5" fill="#a1dbef" stroke="#a1dbef" stroke-width="0.9" stroke-linejoin="round"/><polygon points="290.6,284.1 293.2,290.2 297.5,288.5 294.9,282.4" fill="#a1dbef" stroke="#a1dbef" stroke-width="0.9" stroke-linejoin="round"/><polygon points="286.3,285.8 288.8,291.8 293.2,290.2 290.6,284.1" fill="#a2dbef" stroke="#a2dbef" stroke-width="0.9" stroke-linejoin="round"/><polygon points="281.9,287.3 284.5,293.4 288.8,291.8 286.3,285.8" fill="#a2dbef" stroke="#a2dbef" stroke-width="0.9" stroke-linejoin="round"/><polygon points="277.6,288.8 280.1,294.9 284.5,293.4 281.9,287.3" fill="#a2dbef" stroke="#a2dbef" stroke-width="0.9" stroke-linejoin="round"/><polygon points="273.2,290.3 275.8,296.3 280.1,294.9 277.6,288.8" fill="#a2dbef" stroke="#a2dbef" stroke-width="0.9" stroke-linejoin="round"/><polygon points="341.0,267.4 343.6,273.7 348.0,271.2 345.4,264.8" fill="#9fdaf0" stroke="#9fdaf0" stroke-width="0.9" stroke-linejoin="round"/><polygon points="336.7,269.8 339.3,276.0 343.6,273.7 341.0,267.4" fill="#a0dbf0" stroke="#a0dbf0" stroke-width="0.9" stroke-linejoin="round"/><polygon points="332.3,272.2 334.9,278.3 339.3,276.0 336.7,269.8" fill="#a1dbef" stroke="#a1dbef" stroke-width="0.9" stroke-linejoin="round"/><polygon points="328.0,274.5 330.6,280.5 334.9,278.3 332.3,272.2" fill="#a2dbef" stroke="#a2dbef" stroke-width="0.9" stroke-linejoin="round"/><polygon points="323.6,276.7 326.2,282.6 330.6,280.5 328.0,274.5" fill="#a3dbef" stroke="#a3dbef" stroke-width="0.9" stroke-linejoin="round"/><polygon points="319.3,278.8 321.9,284.7 326.2,282.6 323.6,276.7" fill="#a3dbef" stroke="#a3dbef" stroke-width="0.9" stroke-linejoin="round"/><polygon points="314.9,280.9 317.5,286.7 321.9,284.7 319.3,278.8" fill="#a4dbef" stroke="#a4dbef" stroke-width="0.9" stroke-linejoin="round"/><polygon points="310.6,282.9 313.2,288.7 317.5,286.7 314.9,280.9" fill="#a4dbef" stroke="#a4dbef" stroke-width="0.9" stroke-linejoin="round"/><polygon points="306.2,284.9 308.8,290.5 313.2,288.7 310.6,282.9" fill="#a5dbee" stroke="#a5dbee" stroke-width="0.9" stroke-linejoin="round"/><polygon points="301.9,286.7 304.5,292.4 308.8,290.5 306.2,284.9" fill="#a5dbee" stroke="#a5dbee" stroke-width="0.9" stroke-linejoin="round"/><polygon points="297.5,288.5 300.1,294.1 304.5,292.4 301.9,286.7" fill="#a6dbee" stroke="#a6dbee" stroke-width="0.9" stroke-linejoin="round"/><polygon points="293.2,290.2 295.8,295.8 300.1,294.1 297.5,288.5" fill="#a6dbee" stroke="#a6dbee" stroke-width="0.9" stroke-linejoin="round"/><polygon points="288.8,291.8 291.4,297.4 295.8,295.8 293.2,290.2" fill="#a6dbee" stroke="#a6dbee" stroke-width="0.9" stroke-linejoin="round"/><polygon points="284.5,293.4 287.1,298.9 291.4,297.4 288.8,291.8" fill="#a7dbee" stroke="#a7dbee" stroke-width="0.9" stroke-linejoin="round"/><polygon points="280.1,294.9 282.7,300.4 287.1,298.9 284.5,293.4" fill="#a7dbee" stroke="#a7dbee" stroke-width="0.9" stroke-linejoin="round"/><polygon points="275.8,296.3 278.4,301.8 282.7,300.4 280.1,294.9" fill="#a7dbee" stroke="#a7dbee" stroke-width="0.9" stroke-linejoin="round"/><polygon points="343.6,273.7 346.2,279.4 350.6,277.1 348.0,271.2" fill="#a4dbef" stroke="#a4dbef" stroke-width="0.9" stroke-linejoin="round"/><polygon points="339.3,276.0 341.9,281.7 346.2,279.4 343.6,273.7" fill="#a5dbee" stroke="#a5dbee" stroke-width="0.9" stroke-linejoin="round"/><polygon points="334.9,278.3 337.5,283.9 341.9,281.7 339.3,276.0" fill="#a6dbee" stroke="#a6dbee" stroke-width="0.9" stroke-linejoin="round"/><polygon points="330.6,280.5 333.2,286.0 337.5,283.9 334.9,278.3" fill="#a7dbee" stroke="#a7dbee" stroke-width="0.9" stroke-linejoin="round"/><polygon points="326.2,282.6 328.8,288.1 333.2,286.0 330.6,280.5" fill="#a7dbee" stroke="#a7dbee" stroke-width="0.9" stroke-linejoin="round"/><polygon points="321.9,284.7 324.5,290.1 328.8,288.1 326.2,282.6" fill="#a8dbee" stroke="#a8dbee" stroke-width="0.9" stroke-linejoin="round"/><polygon points="317.5,286.7 320.1,292.1 324.5,290.1 321.9,284.7" fill="#a8dbee" stroke="#a8dbee" stroke-width="0.9" stroke-linejoin="round"/><polygon points="313.2,288.7 315.8,293.9 320.1,292.1 317.5,286.7" fill="#a9dbed" stroke="#a9dbed" stroke-width="0.9" stroke-linejoin="round"/><polygon points="308.8,290.5 311.4,295.8 315.8,293.9 313.2,288.7" fill="#aadbed" stroke="#aadbed" stroke-width="0.9" stroke-linejoin="round"/><polygon points="304.5,292.4 307.1,297.5 311.4,295.8 308.8,290.5" fill="#aadbed" stroke="#aadbed" stroke-width="0.9" stroke-linejoin="round"/><polygon points="300.1,294.1 302.7,299.3 307.1,297.5 304.5,292.4" fill="#aadbed" stroke="#aadbed" stroke-width="0.9" stroke-linejoin="round"/><polygon points="295.8,295.8 298.4,300.9 302.7,299.3 300.1,294.1" fill="#abdbed" stroke="#abdbed" stroke-width="0.9" stroke-linejoin="round"/><polygon points="291.4,297.4 294.0,302.5 298.4,300.9 295.8,295.8" fill="#abdbed" stroke="#abdbed" stroke-width="0.9" stroke-linejoin="round"/><polygon points="287.1,298.9 289.7,304.0 294.0,302.5 291.4,297.4" fill="#abdbed" stroke="#abdbed" stroke-width="0.9" stroke-linejoin="round"/><polygon points="282.7,300.4 285.3,305.5 289.7,304.0 287.1,298.9" fill="#abdbed" stroke="#abdbed" stroke-width="0.9" stroke-linejoin="round"/><polygon points="278.4,301.8 281.0,306.9 285.3,305.5 282.7,300.4" fill="#abdbed" stroke="#abdbed" stroke-width="0.9" stroke-linejoin="round"/><polygon points="346.2,279.4 348.8,284.7 353.2,282.5 350.6,277.1" fill="#a9dbed" stroke="#a9dbed" stroke-width="0.9" stroke-linejoin="round"/><polygon points="341.9,281.7 344.5,286.9 348.8,284.7 346.2,279.4" fill="#a9dbed" stroke="#a9dbed" stroke-width="0.9" stroke-linejoin="round"/><polygon points="337.5,283.9 340.1,289.0 344.5,286.9 341.9,281.7" fill="#aadbed" stroke="#aadbed" stroke-width="0.9" stroke-linejoin="round"/><polygon points="333.2,286.0 335.8,291.1 340.1,289.0 337.5,283.9" fill="#abdbed" stroke="#abdbed" stroke-width="0.9" stroke-linejoin="round"/><polygon points="328.8,288.1 331.4,293.1 335.8,291.1 333.2,286.0" fill="#acdbed" stroke="#acdbed" stroke-width="0.9" stroke-linejoin="round"/><polygon points="324.5,290.1 327.1,295.0 331.4,293.1 328.8,288.1" fill="#acdbed" stroke="#acdbed" stroke-width="0.9" stroke-linejoin="round"/><polygon points="320.1,292.1 322.7,296.9 327.1,295.0 324.5,290.1" fill="#addcec" stroke="#addcec" stroke-width="0.9" stroke-linejoin="round"/><polygon points="315.8,293.9 318.4,298.8 322.7,296.9 320.1,292.1" fill="#addcec" stroke="#addcec" stroke-width="0.9" stroke-linejoin="round"/><polygon points="311.4,295.8 314.0,300.6 318.4,298.8 315.8,293.9" fill="#aedcec" stroke="#aedcec" stroke-width="0.9" stroke-linejoin="round"/><polygon points="307.1,297.5 309.7,302.3 314.0,300.6 311.4,295.8" fill="#aedcec" stroke="#aedcec" stroke-width="0.9" stroke-linejoin="round"/><polygon points="302.7,299.3 305.3,304.0 309.7,302.3 307.1,297.5" fill="#aedcec" stroke="#aedcec" stroke-width="0.9" stroke-linejoin="round"/><polygon points="298.4,300.9 301.0,305.6 305.3,304.0 302.7,299.3" fill="#afdcec" stroke="#afdcec" stroke-width="0.9" stroke-linejoin="round"/><polygon points="294.0,302.5 296.6,307.2 301.0,305.6 298.4,300.9" fill="#afdcec" stroke="#afdcec" stroke-width="0.9" stroke-linejoin="round"/><polygon points="289.7,304.0 292.3,308.7 296.6,307.2 294.0,302.5" fill="#afdcec" stroke="#afdcec" stroke-width="0.9" stroke-linejoin="round"/><polygon points="285.3,305.5 287.9,310.1 292.3,308.7 289.7,304.0" fill="#afdcec" stroke="#afdcec" stroke-width="0.9" stroke-linejoin="round"/><polygon points="281.0,306.9 283.6,311.5 287.9,310.1 285.3,305.5" fill="#afdcec" stroke="#afdcec" stroke-width="0.9" stroke-linejoin="round"/><polygon points="348.8,284.7 351.4,289.6 355.8,287.4 353.2,282.5" fill="#addcec" stroke="#addcec" stroke-width="0.9" stroke-linejoin="round"/><polygon points="344.5,286.9 347.1,291.7 351.4,289.6 348.8,284.7" fill="#aedcec" stroke="#aedcec" stroke-width="0.9" stroke-linejoin="round"/><polygon points="340.1,289.0 342.7,293.7 347.1,291.7 344.5,286.9" fill="#aedcec" stroke="#aedcec" stroke-width="0.9" stroke-linejoin="round"/><polygon points="335.8,291.1 338.4,295.7 342.7,293.7 340.1,289.0" fill="#afdcec" stroke="#afdcec" stroke-width="0.9" stroke-linejoin="round"/><polygon points="331.4,293.1 334.0,297.7 338.4,295.7 335.8,291.1" fill="#b0dcec" stroke="#b0dcec" stroke-width="0.9" stroke-linejoin="round"/><polygon points="327.1,295.0 329.7,299.6 334.0,297.7 331.4,293.1" fill="#b0dcec" stroke="#b0dcec" stroke-width="0.9" stroke-linejoin="round"/><polygon points="322.7,296.9 325.3,301.4 329.7,299.6 327.1,295.0" fill="#b1dceb" stroke="#b1dceb" stroke-width="0.9" stroke-linejoin="round"/><polygon points="318.4,298.8 321.0,303.2 325.3,301.4 322.7,296.9" fill="#b1dceb" stroke="#b1dceb" stroke-width="0.9" stroke-linejoin="round"/><polygon points="314.0,300.6 316.6,305.0 321.0,303.2 318.4,298.8" fill="#b2dceb" stroke="#b2dceb" stroke-width="0.9" stroke-linejoin="round"/><polygon points="309.7,302.3 312.3,306.7 316.6,305.0 314.0,300.6" fill="#b2dceb" stroke="#b2dceb" stroke-width="0.9" stroke-linejoin="round"/><polygon points="305.3,304.0 307.9,308.3 312.3,306.7 309.7,302.3" fill="#b2dceb" stroke="#b2dceb" stroke-width="0.9" stroke-linejoin="round"/><polygon points="301.0,305.6 303.6,309.9 307.9,308.3 305.3,304.0" fill="#b2dceb" stroke="#b2dceb" stroke-width="0.9" stroke-linejoin="round"/><polygon points="296.6,307.2 299.2,311.5 303.6,309.9 301.0,305.6" fill="#b3dceb" stroke="#b3dceb" stroke-width="0.9" stroke-linejoin="round"/><polygon points="292.3,308.7 294.9,313.0 299.2,311.5 296.6,307.2" fill="#b3dceb" stroke="#b3dceb" stroke-width="0.9" stroke-linejoin="round"/><polygon points="287.9,310.1 290.5,314.4 294.9,313.0 292.3,308.7" fill="#b3dceb" stroke="#b3dceb" stroke-width="0.9" stroke-linejoin="round"/><polygon points="283.6,311.5 286.2,315.8 290.5,314.4 287.9,310.1" fill="#b3dceb" stroke="#b3dceb" stroke-width="0.9" stroke-linejoin="round"/><polygon points="351.4,289.6 354.0,294.0 358.4,292.0 355.8,287.4" fill="#b1dceb" stroke="#b1dceb" stroke-width="0.9" stroke-linejoin="round"/><polygon points="347.1,291.7 349.7,296.1 354.0,294.0 351.4,289.6" fill="#b2dceb" stroke="#b2dceb" stroke-width="0.9" stroke-linejoin="round"/><polygon points="342.7,293.7 345.3,298.1 349.7,296.1 347.1,291.7" fill="#b2dceb" stroke="#b2dceb" stroke-width="0.9" stroke-linejoin="round"/><polygon points="338.4,295.7 341.0,300.0 345.3,298.1 342.7,293.7" fill="#b3dceb" stroke="#b3dceb" stroke-width="0.9" stroke-linejoin="round"/><polygon points="334.0,297.7 336.6,301.9 341.0,300.0 338.4,295.7" fill="#b3dceb" stroke="#b3dceb" stroke-width="0.9" stroke-linejoin="round"/><polygon points="329.7,299.6 332.3,303.8 336.6,301.9 334.0,297.7" fill="#b4dceb" stroke="#b4dceb" stroke-width="0.9" stroke-linejoin="round"/><polygon points="325.3,301.4 327.9,305.6 332.3,303.8 329.7,299.6" fill="#b4dceb" stroke="#b4dceb" stroke-width="0.9" stroke-linejoin="round"/><polygon points="321.0,303.2 323.6,307.3 327.9,305.6 325.3,301.4" fill="#b5dcea" stroke="#b5dcea" stroke-width="0.9" stroke-linejoin="round"/><polygon points="316.6,305.0 319.2,309.0 323.6,307.3 321.0,303.2" fill="#b5dcea" stroke="#b5dcea" stroke-width="0.9" stroke-linejoin="round"/><polygon points="312.3,306.7 314.9,310.7 319.2,309.0 316.6,305.0" fill="#b5dcea" stroke="#b5dcea" stroke-width="0.9" stroke-linejoin="round"/><polygon points="307.9,308.3 310.5,312.3 314.9,310.7 312.3,306.7" fill="#b6dcea" stroke="#b6dcea" stroke-width="0.9" stroke-linejoin="round"/><polygon points="303.6,309.9 306.2,313.9 310.5,312.3 307.9,308.3" fill="#b6dcea" stroke="#b6dcea" stroke-width="0.9" stroke-linejoin="round"/><polygon points="299.2,311.5 301.8,315.4 306.2,313.9 303.6,309.9" fill="#b6dcea" stroke="#b6dcea" stroke-width="0.9" stroke-linejoin="round"/><polygon points="294.9,313.0 297.5,316.9 301.8,315.4 299.2,311.5" fill="#b6dcea" stroke="#b6dcea" stroke-width="0.9" stroke-linejoin="round"/><polygon points="290.5,314.4 293.1,318.4 297.5,316.9 294.9,313.0" fill="#b6dcea" stroke="#b6dcea" stroke-width="0.9" stroke-linejoin="round"/><polygon points="286.2,315.8 288.8,319.8 293.1,318.4 290.5,314.4" fill="#b6dcea" stroke="#b6dcea" stroke-width="0.9" stroke-linejoin="round"/><polygon points="354.0,294.0 356.6,298.2 361.0,296.1 358.4,292.0" fill="#b4dcea" stroke="#b4dcea" stroke-width="0.9" stroke-linejoin="round"/><polygon points="349.7,296.1 352.3,300.1 356.6,298.2 354.0,294.0" fill="#b5dcea" stroke="#b5dcea" stroke-width="0.9" stroke-linejoin="round"/><polygon points="345.3,298.1 347.9,302.1 352.3,300.1 349.7,296.1" fill="#b6dcea" stroke="#b6dcea" stroke-width="0.9" stroke-linejoin="round"/><polygon points="341.0,300.0 343.6,303.9 347.9,302.1 345.3,298.1" fill="#b6dcea" stroke="#b6dcea" stroke-width="0.9" stroke-linejoin="round"/><polygon points="336.6,301.9 339.2,305.8 343.6,303.9 341.0,300.0" fill="#b7dcea" stroke="#b7dcea" stroke-width="0.9" stroke-linejoin="round"/><polygon points="332.3,303.8 334.9,307.6 339.2,305.8 336.6,301.9" fill="#b7dcea" stroke="#b7dcea" stroke-width="0.9" stroke-linejoin="round"/><polygon points="327.9,305.6 330.5,309.4 334.9,307.6 332.3,303.8" fill="#b8dcea" stroke="#b8dcea" stroke-width="0.9" stroke-linejoin="round"/><polygon points="323.6,307.3 326.2,311.1 330.5,309.4 327.9,305.6" fill="#b8dcea" stroke="#b8dcea" stroke-width="0.9" stroke-linejoin="round"/><polygon points="319.2,309.0 321.8,312.8 326.2,311.1 323.6,307.3" fill="#b8dce9" stroke="#b8dce9" stroke-width="0.9" stroke-linejoin="round"/><polygon points="314.9,310.7 317.5,314.4 321.8,312.8 319.2,309.0" fill="#b9dce9" stroke="#b9dce9" stroke-width="0.9" stroke-linejoin="round"/><polygon points="310.5,312.3 313.1,316.0 317.5,314.4 314.9,310.7" fill="#b9dce9" stroke="#b9dce9" stroke-width="0.9" stroke-linejoin="round"/><polygon points="306.2,313.9 308.8,317.6 313.1,316.0 310.5,312.3" fill="#b9dce9" stroke="#b9dce9" stroke-width="0.9" stroke-linejoin="round"/><polygon points="301.8,315.4 304.4,319.1 308.8,317.6 306.2,313.9" fill="#b9dde9" stroke="#b9dde9" stroke-width="0.9" stroke-linejoin="round"/><polygon points="297.5,316.9 300.1,320.6 304.4,319.1 301.8,315.4" fill="#badde9" stroke="#badde9" stroke-width="0.9" stroke-linejoin="round"/><polygon points="293.1,318.4 295.7,322.0 300.1,320.6 297.5,316.9" fill="#badde9" stroke="#badde9" stroke-width="0.9" stroke-linejoin="round"/><polygon points="288.8,319.8 291.4,323.4 295.7,322.0 293.1,318.4" fill="#badde9" stroke="#badde9" stroke-width="0.9" stroke-linejoin="round"/><polygon points="356.6,298.2 359.2,301.9 363.6,300.0 361.0,296.1" fill="#b8dcea" stroke="#b8dcea" stroke-width="0.9" stroke-linejoin="round"/><polygon points="352.3,300.1 354.9,303.9 359.2,301.9 356.6,298.2" fill="#b8dce9" stroke="#b8dce9" stroke-width="0.9" stroke-linejoin="round"/><polygon points="347.9,302.1 350.5,305.7 354.9,303.9 352.3,300.1" fill="#b9dce9" stroke="#b9dce9" stroke-width="0.9" stroke-linejoin="round"/><polygon points="343.6,303.9 346.2,307.6 350.5,305.7 347.9,302.1" fill="#badde9" stroke="#badde9" stroke-width="0.9" stroke-linejoin="round"/><polygon points="339.2,305.8 341.8,309.4 346.2,307.6 343.6,303.9" fill="#badde9" stroke="#badde9" stroke-width="0.9" stroke-linejoin="round"/><polygon points="334.9,307.6 337.5,311.1 341.8,309.4 339.2,305.8" fill="#badde9" stroke="#badde9" stroke-width="0.9" stroke-linejoin="round"/><polygon points="330.5,309.4 333.1,312.9 337.5,311.1 334.9,307.6" fill="#bbdde9" stroke="#bbdde9" stroke-width="0.9" stroke-linejoin="round"/><polygon points="326.2,311.1 328.8,314.6 333.1,312.9 330.5,309.4" fill="#bbdde9" stroke="#bbdde9" stroke-width="0.9" stroke-linejoin="round"/><polygon points="321.8,312.8 324.4,316.2 328.8,314.6 326.2,311.1" fill="#bcdde9" stroke="#bcdde9" stroke-width="0.9" stroke-linejoin="round"/><polygon points="317.5,314.4 320.1,317.8 324.4,316.2 321.8,312.8" fill="#bcdde9" stroke="#bcdde9" stroke-width="0.9" stroke-linejoin="round"/><polygon points="313.1,316.0 315.7,319.4 320.1,317.8 317.5,314.4" fill="#bcdde9" stroke="#bcdde9" stroke-width="0.9" stroke-linejoin="round"/><polygon points="308.8,317.6 311.4,321.0 315.7,319.4 313.1,316.0" fill="#bcdde8" stroke="#bcdde8" stroke-width="0.9" stroke-linejoin="round"/><polygon points="304.4,319.1 307.0,322.5 311.4,321.0 308.8,317.6" fill="#bcdde8" stroke="#bcdde8" stroke-width="0.9" stroke-linejoin="round"/><polygon points="300.1,320.6 302.7,323.9 307.0,322.5 304.4,319.1" fill="#bddde8" stroke="#bddde8" stroke-width="0.9" stroke-linejoin="round"/><polygon points="295.7,322.0 298.3,325.4 302.7,323.9 300.1,320.6" fill="#bddde8" stroke="#bddde8" stroke-width="0.9" stroke-linejoin="round"/><polygon points="291.4,323.4 294.0,326.8 298.3,325.4 295.7,322.0" fill="#bddde8" stroke="#bddde8" stroke-width="0.9" stroke-linejoin="round"/><polygon points="359.2,301.9 361.8,305.4 366.2,303.5 363.6,300.0" fill="#bbdde9" stroke="#bbdde9" stroke-width="0.9" stroke-linejoin="round"/><polygon points="354.9,303.9 357.5,307.3 361.8,305.4 359.2,301.9" fill="#bbdde9" stroke="#bbdde9" stroke-width="0.9" stroke-linejoin="round"/><polygon points="350.5,305.7 353.1,309.1 357.5,307.3 354.9,303.9" fill="#bcdde9" stroke="#bcdde9" stroke-width="0.9" stroke-linejoin="round"/><polygon points="346.2,307.6 348.8,310.9 353.1,309.1 350.5,305.7" fill="#bcdde8" stroke="#bcdde8" stroke-width="0.9" stroke-linejoin="round"/><polygon points="341.8,309.4 344.4,312.7 348.8,310.9 346.2,307.6" fill="#bddde8" stroke="#bddde8" stroke-width="0.9" stroke-linejoin="round"/><polygon points="337.5,311.1 340.1,314.4 344.4,312.7 341.8,309.4" fill="#bddde8" stroke="#bddde8" stroke-width="0.9" stroke-linejoin="round"/><polygon points="333.1,312.9 335.7,316.1 340.1,314.4 337.5,311.1" fill="#bedde8" stroke="#bedde8" stroke-width="0.9" stroke-linejoin="round"/><polygon points="328.8,314.6 331.4,317.8 335.7,316.1 333.1,312.9" fill="#bedde8" stroke="#bedde8" stroke-width="0.9" stroke-linejoin="round"/><polygon points="324.4,316.2 327.0,319.4 331.4,317.8 328.8,314.6" fill="#bedde8" stroke="#bedde8" stroke-width="0.9" stroke-linejoin="round"/><polygon points="320.1,317.8 322.7,321.0 327.0,319.4 324.4,316.2" fill="#bfdde8" stroke="#bfdde8" stroke-width="0.9" stroke-linejoin="round"/><polygon points="315.7,319.4 318.3,322.6 322.7,321.0 320.1,317.8" fill="#bfdde8" stroke="#bfdde8" stroke-width="0.9" stroke-linejoin="round"/><polygon points="311.4,321.0 314.0,324.1 318.3,322.6 315.7,319.4" fill="#bfdde8" stroke="#bfdde8" stroke-width="0.9" stroke-linejoin="round"/><polygon points="307.0,322.5 309.6,325.6 314.0,324.1 311.4,321.0" fill="#bfdde8" stroke="#bfdde8" stroke-width="0.9" stroke-linejoin="round"/><polygon points="302.7,323.9 305.3,327.1 309.6,325.6 307.0,322.5" fill="#bfdde8" stroke="#bfdde8" stroke-width="0.9" stroke-linejoin="round"/><polygon points="298.3,325.4 300.9,328.5 305.3,327.1 302.7,323.9" fill="#bfdde8" stroke="#bfdde8" stroke-width="0.9" stroke-linejoin="round"/><polygon points="294.0,326.8 296.6,329.9 300.9,328.5 298.3,325.4" fill="#bfdde8" stroke="#bfdde8" stroke-width="0.9" stroke-linejoin="round"/><polygon points="361.8,305.4 364.4,308.7 368.8,306.8 366.2,303.5" fill="#bedde8" stroke="#bedde8" stroke-width="0.9" stroke-linejoin="round"/><polygon points="357.5,307.3 360.1,310.5 364.4,308.7 361.8,305.4" fill="#bedde8" stroke="#bedde8" stroke-width="0.9" stroke-linejoin="round"/><polygon points="353.1,309.1 355.7,312.3 360.1,310.5 357.5,307.3" fill="#bfdde8" stroke="#bfdde8" stroke-width="0.9" stroke-linejoin="round"/><polygon points="348.8,310.9 351.4,314.0 355.7,312.3 353.1,309.1" fill="#bfdde8" stroke="#bfdde8" stroke-width="0.9" stroke-linejoin="round"/><polygon points="344.4,312.7 347.0,315.8 351.4,314.0 348.8,310.9" fill="#c0dde8" stroke="#c0dde8" stroke-width="0.9" stroke-linejoin="round"/><polygon points="340.1,314.4 342.7,317.5 347.0,315.8 344.4,312.7" fill="#c0dde8" stroke="#c0dde8" stroke-width="0.9" stroke-linejoin="round"/><polygon points="335.7,316.1 338.3,319.1 342.7,317.5 340.1,314.4" fill="#c0dde7" stroke="#c0dde7" stroke-width="0.9" stroke-linejoin="round"/><polygon points="331.4,317.8 334.0,320.8 338.3,319.1 335.7,316.1" fill="#c1dde7" stroke="#c1dde7" stroke-width="0.9" stroke-linejoin="round"/><polygon points="327.0,319.4 329.6,322.4 334.0,320.8 331.4,317.8" fill="#c1dde7" stroke="#c1dde7" stroke-width="0.9" stroke-linejoin="round"/><polygon points="322.7,321.0 325.3,323.9 329.6,322.4 327.0,319.4" fill="#c1dde7" stroke="#c1dde7" stroke-width="0.9" stroke-linejoin="round"/><polygon points="318.3,322.6 320.9,325.5 325.3,323.9 322.7,321.0" fill="#c1dde7" stroke="#c1dde7" stroke-width="0.9" stroke-linejoin="round"/><polygon points="314.0,324.1 316.6,327.0 320.9,325.5 318.3,322.6" fill="#c2dde7" stroke="#c2dde7" stroke-width="0.9" stroke-linejoin="round"/><polygon points="309.6,325.6 312.2,328.5 316.6,327.0 314.0,324.1" fill="#c2dde7" stroke="#c2dde7" stroke-width="0.9" stroke-linejoin="round"/><polygon points="305.3,327.1 307.9,329.9 312.2,328.5 309.6,325.6" fill="#c2dde7" stroke="#c2dde7" stroke-width="0.9" stroke-linejoin="round"/><polygon points="300.9,328.5 303.5,331.4 307.9,329.9 305.3,327.1" fill="#c2dde7" stroke="#c2dde7" stroke-width="0.9" stroke-linejoin="round"/><polygon points="296.6,329.9 299.2,332.7 303.5,331.4 300.9,328.5" fill="#c2dde7" stroke="#c2dde7" stroke-width="0.9" stroke-linejoin="round"/><polygon points="364.4,308.7 367.0,311.6 371.4,309.8 368.8,306.8" fill="#c0dde7" stroke="#c0dde7" stroke-width="0.9" stroke-linejoin="round"/><polygon points="360.1,310.5 362.7,313.4 367.0,311.6 364.4,308.7" fill="#c1dde7" stroke="#c1dde7" stroke-width="0.9" stroke-linejoin="round"/><polygon points="355.7,312.3 358.3,315.2 362.7,313.4 360.1,310.5" fill="#c1dde7" stroke="#c1dde7" stroke-width="0.9" stroke-linejoin="round"/><polygon points="351.4,314.0 354.0,316.9 358.3,315.2 355.7,312.3" fill="#c2dde7" stroke="#c2dde7" stroke-width="0.9" stroke-linejoin="round"/><polygon points="347.0,315.8 349.6,318.6 354.0,316.9 351.4,314.0" fill="#c2dde7" stroke="#c2dde7" stroke-width="0.9" stroke-linejoin="round"/><polygon points="342.7,317.5 345.3,320.3 349.6,318.6 347.0,315.8" fill="#c3dde7" stroke="#c3dde7" stroke-width="0.9" stroke-linejoin="round"/><polygon points="338.3,319.1 340.9,321.9 345.3,320.3 342.7,317.5" fill="#c3dde7" stroke="#c3dde7" stroke-width="0.9" stroke-linejoin="round"/><polygon points="334.0,320.8 336.6,323.5 340.9,321.9 338.3,319.1" fill="#c3dde7" stroke="#c3dde7" stroke-width="0.9" stroke-linejoin="round"/><polygon points="329.6,322.4 332.2,325.1 336.6,323.5 334.0,320.8" fill="#c3dde7" stroke="#c3dde7" stroke-width="0.9" stroke-linejoin="round"/><polygon points="325.3,323.9 327.9,326.6 332.2,325.1 329.6,322.4" fill="#c4dde7" stroke="#c4dde7" stroke-width="0.9" stroke-linejoin="round"/><polygon points="320.9,325.5 323.5,328.2 327.9,326.6 325.3,323.9" fill="#c4dde7" stroke="#c4dde7" stroke-width="0.9" stroke-linejoin="round"/><polygon points="316.6,327.0 319.2,329.7 323.5,328.2 320.9,325.5" fill="#c4dde7" stroke="#c4dde7" stroke-width="0.9" stroke-linejoin="round"/><polygon points="312.2,328.5 314.8,331.2 319.2,329.7 316.6,327.0" fill="#c4dde6" stroke="#c4dde6" stroke-width="0.9" stroke-linejoin="round"/><polygon points="307.9,329.9 310.5,332.6 314.8,331.2 312.2,328.5" fill="#c4dde6" stroke="#c4dde6" stroke-width="0.9" stroke-linejoin="round"/><polygon points="303.5,331.4 306.1,334.0 310.5,332.6 307.9,329.9" fill="#c4dde6" stroke="#c4dde6" stroke-width="0.9" stroke-linejoin="round"/><polygon points="299.2,332.7 301.8,335.4 306.1,334.0 303.5,331.4" fill="#c4dde6" stroke="#c4dde6" stroke-width="0.9" stroke-linejoin="round"/><polygon points="367.0,311.6 369.6,314.4 373.9,312.6 371.4,309.8" fill="#c3dde7" stroke="#c3dde7" stroke-width="0.9" stroke-linejoin="round"/><polygon points="362.7,313.4 365.3,316.1 369.6,314.4 367.0,311.6" fill="#c3dde7" stroke="#c3dde7" stroke-width="0.9" stroke-linejoin="round"/><polygon points="358.3,315.2 360.9,317.9 365.3,316.1 362.7,313.4" fill="#c4dde7" stroke="#c4dde7" stroke-width="0.9" stroke-linejoin="round"/><polygon points="354.0,316.9 356.6,319.6 360.9,317.9 358.3,315.2" fill="#c4dde6" stroke="#c4dde6" stroke-width="0.9" stroke-linejoin="round"/><polygon points="349.6,318.6 352.2,321.2 356.6,319.6 354.0,316.9" fill="#c5dde6" stroke="#c5dde6" stroke-width="0.9" stroke-linejoin="round"/><polygon points="345.3,320.3 347.9,322.9 352.2,321.2 349.6,318.6" fill="#c5dde6" stroke="#c5dde6" stroke-width="0.9" stroke-linejoin="round"/><polygon points="340.9,321.9 343.5,324.5 347.9,322.9 345.3,320.3" fill="#c5dde6" stroke="#c5dde6" stroke-width="0.9" stroke-linejoin="round"/><polygon points="336.6,323.5 339.2,326.1 343.5,324.5 340.9,321.9" fill="#c5dde6" stroke="#c5dde6" stroke-width="0.9" stroke-linejoin="round"/><polygon points="332.2,325.1 334.8,327.6 339.2,326.1 336.6,323.5" fill="#c6dde6" stroke="#c6dde6" stroke-width="0.9" stroke-linejoin="round"/><polygon points="327.9,326.6 330.5,329.2 334.8,327.6 332.2,325.1" fill="#c6dde6" stroke="#c6dde6" stroke-width="0.9" stroke-linejoin="round"/><polygon points="323.5,328.2 326.1,330.7 330.5,329.2 327.9,326.6" fill="#c6dee6" stroke="#c6dee6" stroke-width="0.9" stroke-linejoin="round"/><polygon points="319.2,329.7 321.8,332.2 326.1,330.7 323.5,328.2" fill="#c6dee6" stroke="#c6dee6" stroke-width="0.9" stroke-linejoin="round"/><polygon points="314.8,331.2 317.4,333.6 321.8,332.2 319.2,329.7" fill="#c6dee6" stroke="#c6dee6" stroke-width="0.9" stroke-linejoin="round"/><polygon points="310.5,332.6 313.1,335.1 317.4,333.6 314.8,331.2" fill="#c6dee6" stroke="#c6dee6" stroke-width="0.9" stroke-linejoin="round"/><polygon points="306.1,334.0 308.7,336.5 313.1,335.1 310.5,332.6" fill="#c7dee6" stroke="#c7dee6" stroke-width="0.9" stroke-linejoin="round"/><polygon points="301.8,335.4 304.4,337.9 308.7,336.5 306.1,334.0" fill="#c7dee6" stroke="#c7dee6" stroke-width="0.9" stroke-linejoin="round"/><polygon points="369.6,314.4 372.2,317.0 376.5,315.2 373.9,312.6" fill="#c5dde6" stroke="#c5dde6" stroke-width="0.9" stroke-linejoin="round"/><polygon points="365.3,316.1 367.8,318.7 372.2,317.0 369.6,314.4" fill="#c6dde6" stroke="#c6dde6" stroke-width="0.9" stroke-linejoin="round"/><polygon points="360.9,317.9 363.5,320.4 367.8,318.7 365.3,316.1" fill="#c6dee6" stroke="#c6dee6" stroke-width="0.9" stroke-linejoin="round"/><polygon points="356.6,319.6 359.2,322.0 363.5,320.4 360.9,317.9" fill="#c6dee6" stroke="#c6dee6" stroke-width="0.9" stroke-linejoin="round"/><polygon points="352.2,321.2 354.8,323.7 359.2,322.0 356.6,319.6" fill="#c7dee6" stroke="#c7dee6" stroke-width="0.9" stroke-linejoin="round"/><polygon points="347.9,322.9 350.5,325.3 354.8,323.7 352.2,321.2" fill="#c7dee6" stroke="#c7dee6" stroke-width="0.9" stroke-linejoin="round"/><polygon points="343.5,324.5 346.1,326.9 350.5,325.3 347.9,322.9" fill="#c7dee6" stroke="#c7dee6" stroke-width="0.9" stroke-linejoin="round"/><polygon points="339.2,326.1 341.8,328.4 346.1,326.9 343.5,324.5" fill="#c8dee6" stroke="#c8dee6" stroke-width="0.9" stroke-linejoin="round"/><polygon points="334.8,327.6 337.4,330.0 341.8,328.4 339.2,326.1" fill="#c8dee6" stroke="#c8dee6" stroke-width="0.9" stroke-linejoin="round"/><polygon points="330.5,329.2 333.1,331.5 337.4,330.0 334.8,327.6" fill="#c8dee5" stroke="#c8dee5" stroke-width="0.9" stroke-linejoin="round"/><polygon points="326.1,330.7 328.7,333.0 333.1,331.5 330.5,329.2" fill="#c8dee5" stroke="#c8dee5" stroke-width="0.9" stroke-linejoin="round"/><polygon points="321.8,332.2 324.4,334.5 328.7,333.0 326.1,330.7" fill="#c8dee5" stroke="#c8dee5" stroke-width="0.9" stroke-linejoin="round"/><polygon points="317.4,333.6 320.0,336.0 324.4,334.5 321.8,332.2" fill="#c8dee5" stroke="#c8dee5" stroke-width="0.9" stroke-linejoin="round"/><polygon points="313.1,335.1 315.7,337.4 320.0,336.0 317.4,333.6" fill="#c8dee5" stroke="#c8dee5" stroke-width="0.9" stroke-linejoin="round"/><polygon points="308.7,336.5 311.3,338.8 315.7,337.4 313.1,335.1" fill="#c9dee5" stroke="#c9dee5" stroke-width="0.9" stroke-linejoin="round"/><polygon points="304.4,337.9 307.0,340.2 311.3,338.8 308.7,336.5" fill="#c9dee5" stroke="#c9dee5" stroke-width="0.9" stroke-linejoin="round"/><polygon points="372.2,317.0 374.8,319.4 379.1,317.7 376.5,315.2" fill="#c7dee6" stroke="#c7dee6" stroke-width="0.9" stroke-linejoin="round"/><polygon points="367.8,318.7 370.4,321.0 374.8,319.4 372.2,317.0" fill="#c8dee6" stroke="#c8dee6" stroke-width="0.9" stroke-linejoin="round"/><polygon points="363.5,320.4 366.1,322.7 370.4,321.0 367.8,318.7" fill="#c8dee5" stroke="#c8dee5" stroke-width="0.9" stroke-linejoin="round"/><polygon points="359.2,322.0 361.7,324.3 366.1,322.7 363.5,320.4" fill="#c8dee5" stroke="#c8dee5" stroke-width="0.9" stroke-linejoin="round"/><polygon points="354.8,323.7 357.4,325.9 361.7,324.3 359.2,322.0" fill="#c9dee5" stroke="#c9dee5" stroke-width="0.9" stroke-linejoin="round"/><polygon points="350.5,325.3 353.0,327.5 357.4,325.9 354.8,323.7" fill="#c9dee5" stroke="#c9dee5" stroke-width="0.9" stroke-linejoin="round"/><polygon points="346.1,326.9 348.7,329.1 353.0,327.5 350.5,325.3" fill="#c9dee5" stroke="#c9dee5" stroke-width="0.9" stroke-linejoin="round"/><polygon points="341.8,328.4 344.4,330.7 348.7,329.1 346.1,326.9" fill="#cadee5" stroke="#cadee5" stroke-width="0.9" stroke-linejoin="round"/><polygon points="337.4,330.0 340.0,332.2 344.4,330.7 341.8,328.4" fill="#cadee5" stroke="#cadee5" stroke-width="0.9" stroke-linejoin="round"/><polygon points="333.1,331.5 335.7,333.7 340.0,332.2 337.4,330.0" fill="#cadee5" stroke="#cadee5" stroke-width="0.9" stroke-linejoin="round"/><polygon points="328.7,333.0 331.3,335.2 335.7,333.7 333.1,331.5" fill="#cadee5" stroke="#cadee5" stroke-width="0.9" stroke-linejoin="round"/><polygon points="324.4,334.5 327.0,336.7 331.3,335.2 328.7,333.0" fill="#cadee5" stroke="#cadee5" stroke-width="0.9" stroke-linejoin="round"/><polygon points="320.0,336.0 322.6,338.1 327.0,336.7 324.4,334.5" fill="#cadee5" stroke="#cadee5" stroke-width="0.9" stroke-linejoin="round"/><polygon points="315.7,337.4 318.3,339.5 322.6,338.1 320.0,336.0" fill="#cadee5" stroke="#cadee5" stroke-width="0.9" stroke-linejoin="round"/><polygon points="311.3,338.8 313.9,340.9 318.3,339.5 315.7,337.4" fill="#cadee5" stroke="#cadee5" stroke-width="0.9" stroke-linejoin="round"/><polygon points="307.0,340.2 309.6,342.3 313.9,340.9 311.3,338.8" fill="#cadee5" stroke="#cadee5" stroke-width="0.9" stroke-linejoin="round"/><polygon points="374.8,319.4 377.4,321.6 381.7,319.9 379.1,317.7" fill="#c9dee5" stroke="#c9dee5" stroke-width="0.9" stroke-linejoin="round"/><polygon points="370.4,321.0 373.0,323.2 377.4,321.6 374.8,319.4" fill="#cadee5" stroke="#cadee5" stroke-width="0.9" stroke-linejoin="round"/><polygon points="366.1,322.7 368.7,324.9 373.0,323.2 370.4,321.0" fill="#cadee5" stroke="#cadee5" stroke-width="0.9" stroke-linejoin="round"/><polygon points="361.7,324.3 364.3,326.5 368.7,324.9 366.1,322.7" fill="#cadee5" stroke="#cadee5" stroke-width="0.9" stroke-linejoin="round"/><polygon points="357.4,325.9 360.0,328.1 364.3,326.5 361.7,324.3" fill="#cbdee5" stroke="#cbdee5" stroke-width="0.9" stroke-linejoin="round"/><polygon points="353.0,327.5 355.6,329.6 360.0,328.1 357.4,325.9" fill="#cbdee5" stroke="#cbdee5" stroke-width="0.9" stroke-linejoin="round"/><polygon points="348.7,329.1 351.3,331.2 355.6,329.6 353.0,327.5" fill="#cbdee5" stroke="#cbdee5" stroke-width="0.9" stroke-linejoin="round"/><polygon points="344.4,330.7 346.9,332.7 351.3,331.2 348.7,329.1" fill="#cbdee5" stroke="#cbdee5" stroke-width="0.9" stroke-linejoin="round"/><polygon points="340.0,332.2 342.6,334.2 346.9,332.7 344.4,330.7" fill="#ccdee5" stroke="#ccdee5" stroke-width="0.9" stroke-linejoin="round"/><polygon points="335.7,333.7 338.3,335.7 342.6,334.2 340.0,332.2" fill="#ccdee5" stroke="#ccdee5" stroke-width="0.9" stroke-linejoin="round"/><polygon points="331.3,335.2 333.9,337.2 338.3,335.7 335.7,333.7" fill="#ccdee5" stroke="#ccdee5" stroke-width="0.9" stroke-linejoin="round"/><polygon points="327.0,336.7 329.6,338.7 333.9,337.2 331.3,335.2" fill="#ccdee4" stroke="#ccdee4" stroke-width="0.9" stroke-linejoin="round"/><polygon points="322.6,338.1 325.2,340.1 329.6,338.7 327.0,336.7" fill="#ccdee4" stroke="#ccdee4" stroke-width="0.9" stroke-linejoin="round"/><polygon points="318.3,339.5 320.9,341.5 325.2,340.1 322.6,338.1" fill="#ccdee4" stroke="#ccdee4" stroke-width="0.9" stroke-linejoin="round"/><polygon points="313.9,340.9 316.5,342.9 320.9,341.5 318.3,339.5" fill="#ccdee4" stroke="#ccdee4" stroke-width="0.9" stroke-linejoin="round"/><polygon points="309.6,342.3 312.2,344.3 316.5,342.9 313.9,340.9" fill="#ccdee4" stroke="#ccdee4" stroke-width="0.9" stroke-linejoin="round"/><polygon points="377.4,321.6 380.0,323.7 384.3,322.0 381.7,319.9" fill="#cbdee5" stroke="#cbdee5" stroke-width="0.9" stroke-linejoin="round"/><polygon points="373.0,323.2 375.6,325.3 380.0,323.7 377.4,321.6" fill="#cbdee5" stroke="#cbdee5" stroke-width="0.9" stroke-linejoin="round"/><polygon points="368.7,324.9 371.3,326.9 375.6,325.3 373.0,323.2" fill="#ccdee5" stroke="#ccdee5" stroke-width="0.9" stroke-linejoin="round"/><polygon points="364.3,326.5 366.9,328.5 371.3,326.9 368.7,324.9" fill="#ccdee4" stroke="#ccdee4" stroke-width="0.9" stroke-linejoin="round"/><polygon points="360.0,328.1 362.6,330.0 366.9,328.5 364.3,326.5" fill="#ccdee4" stroke="#ccdee4" stroke-width="0.9" stroke-linejoin="round"/><polygon points="355.6,329.6 358.2,331.6 362.6,330.0 360.0,328.1" fill="#cddee4" stroke="#cddee4" stroke-width="0.9" stroke-linejoin="round"/><polygon points="351.3,331.2 353.9,333.1 358.2,331.6 355.6,329.6" fill="#cddee4" stroke="#cddee4" stroke-width="0.9" stroke-linejoin="round"/><polygon points="346.9,332.7 349.5,334.7 353.9,333.1 351.3,331.2" fill="#cddee4" stroke="#cddee4" stroke-width="0.9" stroke-linejoin="round"/><polygon points="342.6,334.2 345.2,336.2 349.5,334.7 346.9,332.7" fill="#cddee4" stroke="#cddee4" stroke-width="0.9" stroke-linejoin="round"/><polygon points="338.3,335.7 340.8,337.6 345.2,336.2 342.6,334.2" fill="#cddee4" stroke="#cddee4" stroke-width="0.9" stroke-linejoin="round"/><polygon points="333.9,337.2 336.5,339.1 340.8,337.6 338.3,335.7" fill="#cddee4" stroke="#cddee4" stroke-width="0.9" stroke-linejoin="round"/><polygon points="329.6,338.7 332.1,340.6 336.5,339.1 333.9,337.2" fill="#cedee4" stroke="#cedee4" stroke-width="0.9" stroke-linejoin="round"/><polygon points="325.2,340.1 327.8,342.0 332.1,340.6 329.6,338.7" fill="#cedee4" stroke="#cedee4" stroke-width="0.9" stroke-linejoin="round"/><polygon points="320.9,341.5 323.5,343.4 327.8,342.0 325.2,340.1" fill="#cedee4" stroke="#cedee4" stroke-width="0.9" stroke-linejoin="round"/><polygon points="316.5,342.9 319.1,344.8 323.5,343.4 320.9,341.5" fill="#cedee4" stroke="#cedee4" stroke-width="0.9" stroke-linejoin="round"/><polygon points="312.2,344.3 314.8,346.2 319.1,344.8 316.5,342.9" fill="#cedee4" stroke="#cedee4" stroke-width="0.9" stroke-linejoin="round"/><polygon points="380.0,323.7 382.6,325.6 386.9,324.0 384.3,322.0" fill="#cddee4" stroke="#cddee4" stroke-width="0.9" stroke-linejoin="round"/><polygon points="375.6,325.3 378.2,327.2 382.6,325.6 380.0,323.7" fill="#cddee4" stroke="#cddee4" stroke-width="0.9" stroke-linejoin="round"/><polygon points="371.3,326.9 373.9,328.8 378.2,327.2 375.6,325.3" fill="#cddee4" stroke="#cddee4" stroke-width="0.9" stroke-linejoin="round"/><polygon points="366.9,328.5 369.5,330.3 373.9,328.8 371.3,326.9" fill="#cedee4" stroke="#cedee4" stroke-width="0.9" stroke-linejoin="round"/><polygon points="362.6,330.0 365.2,331.9 369.5,330.3 366.9,328.5" fill="#cedee4" stroke="#cedee4" stroke-width="0.9" stroke-linejoin="round"/><polygon points="358.2,331.6 360.8,333.4 365.2,331.9 362.6,330.0" fill="#cedee4" stroke="#cedee4" stroke-width="0.9" stroke-linejoin="round"/><polygon points="353.9,333.1 356.5,335.0 360.8,333.4 358.2,331.6" fill="#cedee4" stroke="#cedee4" stroke-width="0.9" stroke-linejoin="round"/><polygon points="349.5,334.7 352.1,336.5 356.5,335.0 353.9,333.1" fill="#cfdee4" stroke="#cfdee4" stroke-width="0.9" stroke-linejoin="round"/><polygon points="345.2,336.2 347.8,338.0 352.1,336.5 349.5,334.7" fill="#cfdee4" stroke="#cfdee4" stroke-width="0.9" stroke-linejoin="round"/><polygon points="340.8,337.6 343.4,339.4 347.8,338.0 345.2,336.2" fill="#cfdee4" stroke="#cfdee4" stroke-width="0.9" stroke-linejoin="round"/><polygon points="336.5,339.1 339.1,340.9 343.4,339.4 340.8,337.6" fill="#cfdee4" stroke="#cfdee4" stroke-width="0.9" stroke-linejoin="round"/><polygon points="332.1,340.6 334.7,342.3 339.1,340.9 336.5,339.1" fill="#cfdee4" stroke="#cfdee4" stroke-width="0.9" stroke-linejoin="round"/><polygon points="327.8,342.0 330.4,343.8 334.7,342.3 332.1,340.6" fill="#cfdee4" stroke="#cfdee4" stroke-width="0.9" stroke-linejoin="round"/><polygon points="323.5,343.4 326.0,345.2 330.4,343.8 327.8,342.0" fill="#cfdee4" stroke="#cfdee4" stroke-width="0.9" stroke-linejoin="round"/><polygon points="319.1,344.8 321.7,346.6 326.0,345.2 323.5,343.4" fill="#cfdee4" stroke="#cfdee4" stroke-width="0.9" stroke-linejoin="round"/><polygon points="314.8,346.2 317.4,348.0 321.7,346.6 319.1,344.8" fill="#cfdee4" stroke="#cfdee4" stroke-width="0.9" stroke-linejoin="round"/><polygon points="382.6,325.6 385.2,327.4 389.5,325.8 386.9,324.0" fill="#cedee4" stroke="#cedee4" stroke-width="0.9" stroke-linejoin="round"/><polygon points="378.2,327.2 380.8,329.0 385.2,327.4 382.6,325.6" fill="#cfdee4" stroke="#cfdee4" stroke-width="0.9" stroke-linejoin="round"/><polygon points="373.9,328.8 376.5,330.6 380.8,329.0 378.2,327.2" fill="#cfdee4" stroke="#cfdee4" stroke-width="0.9" stroke-linejoin="round"/><polygon points="369.5,330.3 372.1,332.1 376.5,330.6 373.9,328.8" fill="#cfdee4" stroke="#cfdee4" stroke-width="0.9" stroke-linejoin="round"/><polygon points="365.2,331.9 367.8,333.6 372.1,332.1 369.5,330.3" fill="#cfdee4" stroke="#cfdee4" stroke-width="0.9" stroke-linejoin="round"/><polygon points="360.8,333.4 363.4,335.2 367.8,333.6 365.2,331.9" fill="#d0dee4" stroke="#d0dee4" stroke-width="0.9" stroke-linejoin="round"/><polygon points="356.5,335.0 359.1,336.7 363.4,335.2 360.8,333.4" fill="#d0dee3" stroke="#d0dee3" stroke-width="0.9" stroke-linejoin="round"/><polygon points="352.1,336.5 354.7,338.2 359.1,336.7 356.5,335.0" fill="#d0dee3" stroke="#d0dee3" stroke-width="0.9" stroke-linejoin="round"/><polygon points="347.8,338.0 350.4,339.7 354.7,338.2 352.1,336.5" fill="#d0dee3" stroke="#d0dee3" stroke-width="0.9" stroke-linejoin="round"/><polygon points="343.4,339.4 346.0,341.1 350.4,339.7 347.8,338.0" fill="#d0dee3" stroke="#d0dee3" stroke-width="0.9" stroke-linejoin="round"/><polygon points="339.1,340.9 341.7,342.6 346.0,341.1 343.4,339.4" fill="#d0dee3" stroke="#d0dee3" stroke-width="0.9" stroke-linejoin="round"/><polygon points="334.7,342.3 337.3,344.0 341.7,342.6 339.1,340.9" fill="#d0dee3" stroke="#d0dee3" stroke-width="0.9" stroke-linejoin="round"/><polygon points="330.4,343.8 333.0,345.4 337.3,344.0 334.7,342.3" fill="#d1dee3" stroke="#d1dee3" stroke-width="0.9" stroke-linejoin="round"/><polygon points="326.0,345.2 328.6,346.8 333.0,345.4 330.4,343.8" fill="#d1dee3" stroke="#d1dee3" stroke-width="0.9" stroke-linejoin="round"/><polygon points="321.7,346.6 324.3,348.2 328.6,346.8 326.0,345.2" fill="#d1dee3" stroke="#d1dee3" stroke-width="0.9" stroke-linejoin="round"/><polygon points="317.4,348.0 319.9,349.6 324.3,348.2 321.7,346.6" fill="#d1dee3" stroke="#d1dee3" stroke-width="0.9" stroke-linejoin="round"/><polygon points="385.2,327.4 387.8,329.1 392.1,327.5 389.5,325.8" fill="#d0dee3" stroke="#d0dee3" stroke-width="0.9" stroke-linejoin="round"/><polygon points="380.8,329.0 383.4,330.7 387.8,329.1 385.2,327.4" fill="#d0dee3" stroke="#d0dee3" stroke-width="0.9" stroke-linejoin="round"/><polygon points="376.5,330.6 379.1,332.2 383.4,330.7 380.8,329.0" fill="#d0dee3" stroke="#d0dee3" stroke-width="0.9" stroke-linejoin="round"/><polygon points="372.1,332.1 374.7,333.8 379.1,332.2 376.5,330.6" fill="#d1dee3" stroke="#d1dee3" stroke-width="0.9" stroke-linejoin="round"/><polygon points="367.8,333.6 370.4,335.3 374.7,333.8 372.1,332.1" fill="#d1dee3" stroke="#d1dee3" stroke-width="0.9" stroke-linejoin="round"/><polygon points="363.4,335.2 366.0,336.8 370.4,335.3 367.8,333.6" fill="#d1dee3" stroke="#d1dee3" stroke-width="0.9" stroke-linejoin="round"/><polygon points="359.1,336.7 361.7,338.3 366.0,336.8 363.4,335.2" fill="#d1dee3" stroke="#d1dee3" stroke-width="0.9" stroke-linejoin="round"/><polygon points="354.7,338.2 357.3,339.8 361.7,338.3 359.1,336.7" fill="#d1dee3" stroke="#d1dee3" stroke-width="0.9" stroke-linejoin="round"/><polygon points="350.4,339.7 353.0,341.2 357.3,339.8 354.7,338.2" fill="#d1dee3" stroke="#d1dee3" stroke-width="0.9" stroke-linejoin="round"/><polygon points="346.0,341.1 348.6,342.7 353.0,341.2 350.4,339.7" fill="#d2dee3" stroke="#d2dee3" stroke-width="0.9" stroke-linejoin="round"/><polygon points="341.7,342.6 344.3,344.1 348.6,342.7 346.0,341.1" fill="#d2dee3" stroke="#d2dee3" stroke-width="0.9" stroke-linejoin="round"/><polygon points="337.3,344.0 339.9,345.6 344.3,344.1 341.7,342.6" fill="#d2dee3" stroke="#d2dee3" stroke-width="0.9" stroke-linejoin="round"/><polygon points="333.0,345.4 335.6,347.0 339.9,345.6 337.3,344.0" fill="#d2dee3" stroke="#d2dee3" stroke-width="0.9" stroke-linejoin="round"/><polygon points="328.6,346.8 331.2,348.4 335.6,347.0 333.0,345.4" fill="#d2dee3" stroke="#d2dee3" stroke-width="0.9" stroke-linejoin="round"/><polygon points="324.3,348.2 326.9,349.8 331.2,348.4 328.6,346.8" fill="#d2dee3" stroke="#d2dee3" stroke-width="0.9" stroke-linejoin="round"/><polygon points="319.9,349.6 322.5,351.2 326.9,349.8 324.3,348.2" fill="#d2dee3" stroke="#d2dee3" stroke-width="0.9" stroke-linejoin="round"/><polygon points="387.8,329.1 390.4,330.7 394.7,329.2 392.1,327.5" fill="#d1dee3" stroke="#d1dee3" stroke-width="0.9" stroke-linejoin="round"/><polygon points="383.4,330.7 386.0,332.3 390.4,330.7 387.8,329.1" fill="#d1dee3" stroke="#d1dee3" stroke-width="0.9" stroke-linejoin="round"/><polygon points="379.1,332.2 381.7,333.8 386.0,332.3 383.4,330.7" fill="#d2dee3" stroke="#d2dee3" stroke-width="0.9" stroke-linejoin="round"/><polygon points="374.7,333.8 377.3,335.3 381.7,333.8 379.1,332.2" fill="#d2dee3" stroke="#d2dee3" stroke-width="0.9" stroke-linejoin="round"/><polygon points="370.4,335.3 373.0,336.8 377.3,335.3 374.7,333.8" fill="#d2dee3" stroke="#d2dee3" stroke-width="0.9" stroke-linejoin="round"/><polygon points="366.0,336.8 368.6,338.3 373.0,336.8 370.4,335.3" fill="#d2dee3" stroke="#d2dee3" stroke-width="0.9" stroke-linejoin="round"/><polygon points="361.7,338.3 364.3,339.8 368.6,338.3 366.0,336.8" fill="#d2dee3" stroke="#d2dee3" stroke-width="0.9" stroke-linejoin="round"/><polygon points="357.3,339.8 359.9,341.3 364.3,339.8 361.7,338.3" fill="#d3dee3" stroke="#d3dee3" stroke-width="0.9" stroke-linejoin="round"/><polygon points="353.0,341.2 355.6,342.7 359.9,341.3 357.3,339.8" fill="#d3dee3" stroke="#d3dee3" stroke-width="0.9" stroke-linejoin="round"/><polygon points="348.6,342.7 351.2,344.2 355.6,342.7 353.0,341.2" fill="#d3dfe3" stroke="#d3dfe3" stroke-width="0.9" stroke-linejoin="round"/><polygon points="344.3,344.1 346.9,345.6 351.2,344.2 348.6,342.7" fill="#d3dfe3" stroke="#d3dfe3" stroke-width="0.9" stroke-linejoin="round"/><polygon points="339.9,345.6 342.5,347.1 346.9,345.6 344.3,344.1" fill="#d3dfe3" stroke="#d3dfe3" stroke-width="0.9" stroke-linejoin="round"/><polygon points="335.6,347.0 338.2,348.5 342.5,347.1 339.9,345.6" fill="#d3dfe3" stroke="#d3dfe3" stroke-width="0.9" stroke-linejoin="round"/><polygon points="331.2,348.4 333.8,349.9 338.2,348.5 335.6,347.0" fill="#d3dfe3" stroke="#d3dfe3" stroke-width="0.9" stroke-linejoin="round"/><polygon points="326.9,349.8 329.5,351.3 333.8,349.9 331.2,348.4" fill="#d3dfe3" stroke="#d3dfe3" stroke-width="0.9" stroke-linejoin="round"/><polygon points="322.5,351.2 325.1,352.7 329.5,351.3 326.9,349.8" fill="#d3dfe3" stroke="#d3dfe3" stroke-width="0.9" stroke-linejoin="round"/><polygon points="390.4,330.7 393.0,332.2 397.3,330.7 394.7,329.2" fill="#d2dee3" stroke="#d2dee3" stroke-width="0.9" stroke-linejoin="round"/><polygon points="386.0,332.3 388.6,333.8 393.0,332.2 390.4,330.7" fill="#d3dee3" stroke="#d3dee3" stroke-width="0.9" stroke-linejoin="round"/><polygon points="381.7,333.8 384.3,335.3 388.6,333.8 386.0,332.3" fill="#d3dfe3" stroke="#d3dfe3" stroke-width="0.9" stroke-linejoin="round"/><polygon points="377.3,335.3 379.9,336.8 384.3,335.3 381.7,333.8" fill="#d3dfe3" stroke="#d3dfe3" stroke-width="0.9" stroke-linejoin="round"/><polygon points="373.0,336.8 375.6,338.3 379.9,336.8 377.3,335.3" fill="#d3dfe3" stroke="#d3dfe3" stroke-width="0.9" stroke-linejoin="round"/><polygon points="368.6,338.3 371.2,339.8 375.6,338.3 373.0,336.8" fill="#d3dfe3" stroke="#d3dfe3" stroke-width="0.9" stroke-linejoin="round"/><polygon points="364.3,339.8 366.9,341.2 371.2,339.8 368.6,338.3" fill="#d4dfe3" stroke="#d4dfe3" stroke-width="0.9" stroke-linejoin="round"/><polygon points="359.9,341.3 362.5,342.7 366.9,341.2 364.3,339.8" fill="#d4dfe2" stroke="#d4dfe2" stroke-width="0.9" stroke-linejoin="round"/><polygon points="355.6,342.7 358.2,344.2 362.5,342.7 359.9,341.3" fill="#d4dfe2" stroke="#d4dfe2" stroke-width="0.9" stroke-linejoin="round"/><polygon points="351.2,344.2 353.8,345.6 358.2,344.2 355.6,342.7" fill="#d4dfe2" stroke="#d4dfe2" stroke-width="0.9" stroke-linejoin="round"/><polygon points="346.9,345.6 349.5,347.0 353.8,345.6 351.2,344.2" fill="#d4dfe2" stroke="#d4dfe2" stroke-width="0.9" stroke-linejoin="round"/><polygon points="342.5,347.1 345.1,348.5 349.5,347.0 346.9,345.6" fill="#d4dfe2" stroke="#d4dfe2" stroke-width="0.9" stroke-linejoin="round"/><polygon points="338.2,348.5 340.8,349.9 345.1,348.5 342.5,347.1" fill="#d4dfe2" stroke="#d4dfe2" stroke-width="0.9" stroke-linejoin="round"/><polygon points="333.8,349.9 336.4,351.3 340.8,349.9 338.2,348.5" fill="#d4dfe2" stroke="#d4dfe2" stroke-width="0.9" stroke-linejoin="round"/><polygon points="329.5,351.3 332.1,352.7 336.4,351.3 333.8,349.9" fill="#d4dfe2" stroke="#d4dfe2" stroke-width="0.9" stroke-linejoin="round"/><polygon points="325.1,352.7 327.7,354.1 332.1,352.7 329.5,351.3" fill="#d4dfe2" stroke="#d4dfe2" stroke-width="0.9" stroke-linejoin="round"/><polygon points="393.0,332.2 395.6,333.7 399.9,332.1 397.3,330.7" fill="#d4dfe3" stroke="#d4dfe3" stroke-width="0.9" stroke-linejoin="round"/><polygon points="388.6,333.8 391.2,335.2 395.6,333.7 393.0,332.2" fill="#d4dfe2" stroke="#d4dfe2" stroke-width="0.9" stroke-linejoin="round"/><polygon points="384.3,335.3 386.9,336.7 391.2,335.2 388.6,333.8" fill="#d4dfe2" stroke="#d4dfe2" stroke-width="0.9" stroke-linejoin="round"/><polygon points="379.9,336.8 382.5,338.2 386.9,336.7 384.3,335.3" fill="#d4dfe2" stroke="#d4dfe2" stroke-width="0.9" stroke-linejoin="round"/><polygon points="375.6,338.3 378.2,339.7 382.5,338.2 379.9,336.8" fill="#d4dfe2" stroke="#d4dfe2" stroke-width="0.9" stroke-linejoin="round"/><polygon points="371.2,339.8 373.8,341.1 378.2,339.7 375.6,338.3" fill="#d5dfe2" stroke="#d5dfe2" stroke-width="0.9" stroke-linejoin="round"/><polygon points="366.9,341.2 369.5,342.6 373.8,341.1 371.2,339.8" fill="#d5dfe2" stroke="#d5dfe2" stroke-width="0.9" stroke-linejoin="round"/><polygon points="362.5,342.7 365.1,344.1 369.5,342.6 366.9,341.2" fill="#d5dfe2" stroke="#d5dfe2" stroke-width="0.9" stroke-linejoin="round"/><polygon points="358.2,344.2 360.8,345.5 365.1,344.1 362.5,342.7" fill="#d5dfe2" stroke="#d5dfe2" stroke-width="0.9" stroke-linejoin="round"/><polygon points="353.8,345.6 356.4,346.9 360.8,345.5 358.2,344.2" fill="#d5dfe2" stroke="#d5dfe2" stroke-width="0.9" stroke-linejoin="round"/><polygon points="349.5,347.0 352.1,348.4 356.4,346.9 353.8,345.6" fill="#d5dfe2" stroke="#d5dfe2" stroke-width="0.9" stroke-linejoin="round"/><polygon points="345.1,348.5 347.7,349.8 352.1,348.4 349.5,347.0" fill="#d5dfe2" stroke="#d5dfe2" stroke-width="0.9" stroke-linejoin="round"/><polygon points="340.8,349.9 343.4,351.2 347.7,349.8 345.1,348.5" fill="#d5dfe2" stroke="#d5dfe2" stroke-width="0.9" stroke-linejoin="round"/><polygon points="336.4,351.3 339.0,352.6 343.4,351.2 340.8,349.9" fill="#d5dfe2" stroke="#d5dfe2" stroke-width="0.9" stroke-linejoin="round"/><polygon points="332.1,352.7 334.7,354.0 339.0,352.6 336.4,351.3" fill="#d5dfe2" stroke="#d5dfe2" stroke-width="0.9" stroke-linejoin="round"/><polygon points="327.7,354.1 330.3,355.4 334.7,354.0 332.1,352.7" fill="#d5dfe2" stroke="#d5dfe2" stroke-width="0.9" stroke-linejoin="round"/><polygon points="395.6,333.7 398.2,335.0 402.5,333.5 399.9,332.1" fill="#d5dfe2" stroke="#d5dfe2" stroke-width="0.9" stroke-linejoin="round"/><polygon points="391.2,335.2 393.8,336.5 398.2,335.0 395.6,333.7" fill="#d5dfe2" stroke="#d5dfe2" stroke-width="0.9" stroke-linejoin="round"/><polygon points="386.9,336.7 389.5,338.0 393.8,336.5 391.2,335.2" fill="#d5dfe2" stroke="#d5dfe2" stroke-width="0.9" stroke-linejoin="round"/><polygon points="382.5,338.2 385.1,339.5 389.5,338.0 386.9,336.7" fill="#d5dfe2" stroke="#d5dfe2" stroke-width="0.9" stroke-linejoin="round"/><polygon points="378.2,339.7 380.8,341.0 385.1,339.5 382.5,338.2" fill="#d5dfe2" stroke="#d5dfe2" stroke-width="0.9" stroke-linejoin="round"/><polygon points="373.8,341.1 376.4,342.4 380.8,341.0 378.2,339.7" fill="#d6dfe2" stroke="#d6dfe2" stroke-width="0.9" stroke-linejoin="round"/><polygon points="369.5,342.6 372.1,343.9 376.4,342.4 373.8,341.1" fill="#d6dfe2" stroke="#d6dfe2" stroke-width="0.9" stroke-linejoin="round"/><polygon points="365.1,344.1 367.7,345.3 372.1,343.9 369.5,342.6" fill="#d6dfe2" stroke="#d6dfe2" stroke-width="0.9" stroke-linejoin="round"/><polygon points="360.8,345.5 363.4,346.8 367.7,345.3 365.1,344.1" fill="#d6dfe2" stroke="#d6dfe2" stroke-width="0.9" stroke-linejoin="round"/><polygon points="356.4,346.9 359.0,348.2 363.4,346.8 360.8,345.5" fill="#d6dfe2" stroke="#d6dfe2" stroke-width="0.9" stroke-linejoin="round"/><polygon points="352.1,348.4 354.7,349.6 359.0,348.2 356.4,346.9" fill="#d6dfe2" stroke="#d6dfe2" stroke-width="0.9" stroke-linejoin="round"/><polygon points="347.7,349.8 350.3,351.1 354.7,349.6 352.1,348.4" fill="#d6dfe2" stroke="#d6dfe2" stroke-width="0.9" stroke-linejoin="round"/><polygon points="343.4,351.2 346.0,352.5 350.3,351.1 347.7,349.8" fill="#d6dfe2" stroke="#d6dfe2" stroke-width="0.9" stroke-linejoin="round"/><polygon points="339.0,352.6 341.6,353.9 346.0,352.5 343.4,351.2" fill="#d6dfe2" stroke="#d6dfe2" stroke-width="0.9" stroke-linejoin="round"/><polygon points="334.7,354.0 337.3,355.3 341.6,353.9 339.0,352.6" fill="#d6dfe2" stroke="#d6dfe2" stroke-width="0.9" stroke-linejoin="round"/><polygon points="330.3,355.4 332.9,356.6 337.3,355.3 334.7,354.0" fill="#d6dfe2" stroke="#d6dfe2" stroke-width="0.9" stroke-linejoin="round"/><polygon points="398.2,335.0 400.8,336.3 405.1,334.8 402.5,333.5" fill="#d6dfe2" stroke="#d6dfe2" stroke-width="0.9" stroke-linejoin="round"/><polygon points="393.8,336.5 396.4,337.8 400.8,336.3 398.2,335.0" fill="#d6dfe2" stroke="#d6dfe2" stroke-width="0.9" stroke-linejoin="round"/><polygon points="389.5,338.0 392.1,339.3 396.4,337.8 393.8,336.5" fill="#d6dfe2" stroke="#d6dfe2" stroke-width="0.9" stroke-linejoin="round"/><polygon points="385.1,339.5 387.7,340.8 392.1,339.3 389.5,338.0" fill="#d6dfe2" stroke="#d6dfe2" stroke-width="0.9" stroke-linejoin="round"/><polygon points="380.8,341.0 383.4,342.2 387.7,340.8 385.1,339.5" fill="#d6dfe2" stroke="#d6dfe2" stroke-width="0.9" stroke-linejoin="round"/><polygon points="376.4,342.4 379.0,343.7 383.4,342.2 380.8,341.0" fill="#d6dfe2" stroke="#d6dfe2" stroke-width="0.9" stroke-linejoin="round"/><polygon points="372.1,343.9 374.7,345.1 379.0,343.7 376.4,342.4" fill="#d7dfe2" stroke="#d7dfe2" stroke-width="0.9" stroke-linejoin="round"/><polygon points="367.7,345.3 370.3,346.6 374.7,345.1 372.1,343.9" fill="#d7dfe2" stroke="#d7dfe2" stroke-width="0.9" stroke-linejoin="round"/><polygon points="363.4,346.8 366.0,348.0 370.3,346.6 367.7,345.3" fill="#d7dfe2" stroke="#d7dfe2" stroke-width="0.9" stroke-linejoin="round"/><polygon points="359.0,348.2 361.6,349.4 366.0,348.0 363.4,346.8" fill="#d7dfe2" stroke="#d7dfe2" stroke-width="0.9" stroke-linejoin="round"/><polygon points="354.7,349.6 357.3,350.9 361.6,349.4 359.0,348.2" fill="#d7dfe2" stroke="#d7dfe2" stroke-width="0.9" stroke-linejoin="round"/><polygon points="350.3,351.1 352.9,352.3 357.3,350.9 354.7,349.6" fill="#d7dfe2" stroke="#d7dfe2" stroke-width="0.9" stroke-linejoin="round"/><polygon points="346.0,352.5 348.6,353.7 352.9,352.3 350.3,351.1" fill="#d7dfe2" stroke="#d7dfe2" stroke-width="0.9" stroke-linejoin="round"/><polygon points="341.6,353.9 344.2,355.1 348.6,353.7 346.0,352.5" fill="#d7dfe2" stroke="#d7dfe2" stroke-width="0.9" stroke-linejoin="round"/><polygon points="337.3,355.3 339.9,356.5 344.2,355.1 341.6,353.9" fill="#d7dfe2" stroke="#d7dfe2" stroke-width="0.9" stroke-linejoin="round"/><polygon points="332.9,356.6 335.5,357.8 339.9,356.5 337.3,355.3" fill="#d7dfe2" stroke="#d7dfe2" stroke-width="0.9" stroke-linejoin="round"/><polygon points="400.8,336.3 403.4,337.5 407.7,336.1 405.1,334.8" fill="#d7dfe2" stroke="#d7dfe2" stroke-width="0.9" stroke-linejoin="round"/><polygon points="396.4,337.8 399.0,339.0 403.4,337.5 400.8,336.3" fill="#d7dfe2" stroke="#d7dfe2" stroke-width="0.9" stroke-linejoin="round"/><polygon points="392.1,339.3 394.7,340.5 399.0,339.0 396.4,337.8" fill="#d7dfe2" stroke="#d7dfe2" stroke-width="0.9" stroke-linejoin="round"/><polygon points="387.7,340.8 390.3,342.0 394.7,340.5 392.1,339.3" fill="#d7dfe2" stroke="#d7dfe2" stroke-width="0.9" stroke-linejoin="round"/><polygon points="383.4,342.2 386.0,343.4 390.3,342.0 387.7,340.8" fill="#d7dfe2" stroke="#d7dfe2" stroke-width="0.9" stroke-linejoin="round"/><polygon points="379.0,343.7 381.6,344.9 386.0,343.4 383.4,342.2" fill="#d7dfe2" stroke="#d7dfe2" stroke-width="0.9" stroke-linejoin="round"/><polygon points="374.7,345.1 377.3,346.3 381.6,344.9 379.0,343.7" fill="#d7dfe2" stroke="#d7dfe2" stroke-width="0.9" stroke-linejoin="round"/><polygon points="370.3,346.6 372.9,347.7 377.3,346.3 374.7,345.1" fill="#d8dfe2" stroke="#d8dfe2" stroke-width="0.9" stroke-linejoin="round"/><polygon points="366.0,348.0 368.6,349.2 372.9,347.7 370.3,346.6" fill="#d8dfe1" stroke="#d8dfe1" stroke-width="0.9" stroke-linejoin="round"/><polygon points="361.6,349.4 364.2,350.6 368.6,349.2 366.0,348.0" fill="#d8dfe1" stroke="#d8dfe1" stroke-width="0.9" stroke-linejoin="round"/><polygon points="357.3,350.9 359.9,352.0 364.2,350.6 361.6,349.4" fill="#d8dfe1" stroke="#d8dfe1" stroke-width="0.9" stroke-linejoin="round"/><polygon points="352.9,352.3 355.5,353.4 359.9,352.0 357.3,350.9" fill="#d8dfe1" stroke="#d8dfe1" stroke-width="0.9" stroke-linejoin="round"/><polygon points="348.6,353.7 351.2,354.8 355.5,353.4 352.9,352.3" fill="#d8dfe1" stroke="#d8dfe1" stroke-width="0.9" stroke-linejoin="round"/><polygon points="344.2,355.1 346.8,356.2 351.2,354.8 348.6,353.7" fill="#d8dfe1" stroke="#d8dfe1" stroke-width="0.9" stroke-linejoin="round"/><polygon points="339.9,356.5 342.5,357.6 346.8,356.2 344.2,355.1" fill="#d8dfe1" stroke="#d8dfe1" stroke-width="0.9" stroke-linejoin="round"/><polygon points="335.5,357.8 338.1,359.0 342.5,357.6 339.9,356.5" fill="#d8dfe1" stroke="#d8dfe1" stroke-width="0.9" stroke-linejoin="round"/><polygon points="403.4,337.5 406.0,338.7 410.3,337.2 407.7,336.1" fill="#d8dfe2" stroke="#d8dfe2" stroke-width="0.9" stroke-linejoin="round"/><polygon points="399.0,339.0 401.6,340.2 406.0,338.7 403.4,337.5" fill="#d8dfe1" stroke="#d8dfe1" stroke-width="0.9" stroke-linejoin="round"/><polygon points="394.7,340.5 397.3,341.6 401.6,340.2 399.0,339.0" fill="#d8dfe1" stroke="#d8dfe1" stroke-width="0.9" stroke-linejoin="round"/><polygon points="390.3,342.0 392.9,343.1 397.3,341.6 394.7,340.5" fill="#d8dfe1" stroke="#d8dfe1" stroke-width="0.9" stroke-linejoin="round"/><polygon points="386.0,343.4 388.6,344.5 392.9,343.1 390.3,342.0" fill="#d8dfe1" stroke="#d8dfe1" stroke-width="0.9" stroke-linejoin="round"/><polygon points="381.6,344.9 384.2,346.0 388.6,344.5 386.0,343.4" fill="#d8dfe1" stroke="#d8dfe1" stroke-width="0.9" stroke-linejoin="round"/><polygon points="377.3,346.3 379.9,347.4 384.2,346.0 381.6,344.9" fill="#d8dfe1" stroke="#d8dfe1" stroke-width="0.9" stroke-linejoin="round"/><polygon points="372.9,347.7 375.5,348.9 379.9,347.4 377.3,346.3" fill="#d8dfe1" stroke="#d8dfe1" stroke-width="0.9" stroke-linejoin="round"/><polygon points="368.6,349.2 371.2,350.3 375.5,348.9 372.9,347.7" fill="#d8dfe1" stroke="#d8dfe1" stroke-width="0.9" stroke-linejoin="round"/><polygon points="364.2,350.6 366.8,351.7 371.2,350.3 368.6,349.2" fill="#d9dfe1" stroke="#d9dfe1" stroke-width="0.9" stroke-linejoin="round"/><polygon points="359.9,352.0 362.5,353.1 366.8,351.7 364.2,350.6" fill="#d9dfe1" stroke="#d9dfe1" stroke-width="0.9" stroke-linejoin="round"/><polygon points="355.5,353.4 358.1,354.5 362.5,353.1 359.9,352.0" fill="#d9dfe1" stroke="#d9dfe1" stroke-width="0.9" stroke-linejoin="round"/><polygon points="351.2,354.8 353.8,355.9 358.1,354.5 355.5,353.4" fill="#d9dfe1" stroke="#d9dfe1" stroke-width="0.9" stroke-linejoin="round"/><polygon points="346.8,356.2 349.4,357.3 353.8,355.9 351.2,354.8" fill="#d9dfe1" stroke="#d9dfe1" stroke-width="0.9" stroke-linejoin="round"/><polygon points="342.5,357.6 345.1,358.7 349.4,357.3 346.8,356.2" fill="#d9dfe1" stroke="#d9dfe1" stroke-width="0.9" stroke-linejoin="round"/><polygon points="338.1,359.0 340.7,360.1 345.1,358.7 342.5,357.6" fill="#d9dfe1" stroke="#d9dfe1" stroke-width="0.9" stroke-linejoin="round"/><polygon points="406.0,338.7 408.6,339.8 412.9,338.4 410.3,337.2" fill="#d8dfe1" stroke="#d8dfe1" stroke-width="0.9" stroke-linejoin="round"/><polygon points="401.6,340.2 404.2,341.3 408.6,339.8 406.0,338.7" fill="#d8dfe1" stroke="#d8dfe1" stroke-width="0.9" stroke-linejoin="round"/><polygon points="397.3,341.6 399.9,342.7 404.2,341.3 401.6,340.2" fill="#d9dfe1" stroke="#d9dfe1" stroke-width="0.9" stroke-linejoin="round"/><polygon points="392.9,343.1 395.5,344.2 399.9,342.7 397.3,341.6" fill="#d9dfe1" stroke="#d9dfe1" stroke-width="0.9" stroke-linejoin="round"/><polygon points="388.6,344.5 391.2,345.6 395.5,344.2 392.9,343.1" fill="#d9dfe1" stroke="#d9dfe1" stroke-width="0.9" stroke-linejoin="round"/><polygon points="384.2,346.0 386.8,347.1 391.2,345.6 388.6,344.5" fill="#d9dfe1" stroke="#d9dfe1" stroke-width="0.9" stroke-linejoin="round"/><polygon points="379.9,347.4 382.5,348.5 386.8,347.1 384.2,346.0" fill="#d9dfe1" stroke="#d9dfe1" stroke-width="0.9" stroke-linejoin="round"/><polygon points="375.5,348.9 378.1,349.9 382.5,348.5 379.9,347.4" fill="#d9dfe1" stroke="#d9dfe1" stroke-width="0.9" stroke-linejoin="round"/><polygon points="371.2,350.3 373.8,351.4 378.1,349.9 375.5,348.9" fill="#d9dfe1" stroke="#d9dfe1" stroke-width="0.9" stroke-linejoin="round"/><polygon points="366.8,351.7 369.4,352.8 373.8,351.4 371.2,350.3" fill="#d9dfe1" stroke="#d9dfe1" stroke-width="0.9" stroke-linejoin="round"/><polygon points="362.5,353.1 365.1,354.2 369.4,352.8 366.8,351.7" fill="#d9dfe1" stroke="#d9dfe1" stroke-width="0.9" stroke-linejoin="round"/><polygon points="358.1,354.5 360.7,355.6 365.1,354.2 362.5,353.1" fill="#d9dfe1" stroke="#d9dfe1" stroke-width="0.9" stroke-linejoin="round"/><polygon points="353.8,355.9 356.4,357.0 360.7,355.6 358.1,354.5" fill="#d9dfe1" stroke="#d9dfe1" stroke-width="0.9" stroke-linejoin="round"/><polygon points="349.4,357.3 352.0,358.4 356.4,357.0 353.8,355.9" fill="#d9dfe1" stroke="#d9dfe1" stroke-width="0.9" stroke-linejoin="round"/><polygon points="345.1,358.7 347.7,359.7 352.0,358.4 349.4,357.3" fill="#d9dfe1" stroke="#d9dfe1" stroke-width="0.9" stroke-linejoin="round"/><polygon points="340.7,360.1 343.3,361.1 347.7,359.7 345.1,358.7" fill="#d9dfe1" stroke="#d9dfe1" stroke-width="0.9" stroke-linejoin="round"/><polygon points="408.6,339.8 411.2,340.9 415.5,339.4 412.9,338.4" fill="#d9dfe1" stroke="#d9dfe1" stroke-width="0.9" stroke-linejoin="round"/><polygon points="404.2,341.3 406.8,342.4 411.2,340.9 408.6,339.8" fill="#d9dfe1" stroke="#d9dfe1" stroke-width="0.9" stroke-linejoin="round"/><polygon points="399.9,342.7 402.5,343.8 406.8,342.4 404.2,341.3" fill="#d9dfe1" stroke="#d9dfe1" stroke-width="0.9" stroke-linejoin="round"/><polygon points="395.5,344.2 398.1,345.2 402.5,343.8 399.9,342.7" fill="#d9dfe1" stroke="#d9dfe1" stroke-width="0.9" stroke-linejoin="round"/><polygon points="391.2,345.6 393.8,346.7 398.1,345.2 395.5,344.2" fill="#dadfe1" stroke="#dadfe1" stroke-width="0.9" stroke-linejoin="round"/><polygon points="386.8,347.1 389.4,348.1 393.8,346.7 391.2,345.6" fill="#dadfe1" stroke="#dadfe1" stroke-width="0.9" stroke-linejoin="round"/><polygon points="382.5,348.5 385.1,349.5 389.4,348.1 386.8,347.1" fill="#dadfe1" stroke="#dadfe1" stroke-width="0.9" stroke-linejoin="round"/><polygon points="378.1,349.9 380.7,351.0 385.1,349.5 382.5,348.5" fill="#dadfe1" stroke="#dadfe1" stroke-width="0.9" stroke-linejoin="round"/><polygon points="373.8,351.4 376.4,352.4 380.7,351.0 378.1,349.9" fill="#dadfe1" stroke="#dadfe1" stroke-width="0.9" stroke-linejoin="round"/><polygon points="369.4,352.8 372.0,353.8 376.4,352.4 373.8,351.4" fill="#dadfe1" stroke="#dadfe1" stroke-width="0.9" stroke-linejoin="round"/><polygon points="365.1,354.2 367.7,355.2 372.0,353.8 369.4,352.8" fill="#dadfe1" stroke="#dadfe1" stroke-width="0.9" stroke-linejoin="round"/><polygon points="360.7,355.6 363.3,356.6 367.7,355.2 365.1,354.2" fill="#dadfe1" stroke="#dadfe1" stroke-width="0.9" stroke-linejoin="round"/><polygon points="356.4,357.0 359.0,358.0 363.3,356.6 360.7,355.6" fill="#dadfe1" stroke="#dadfe1" stroke-width="0.9" stroke-linejoin="round"/><polygon points="352.0,358.4 354.6,359.4 359.0,358.0 356.4,357.0" fill="#dadfe1" stroke="#dadfe1" stroke-width="0.9" stroke-linejoin="round"/><polygon points="347.7,359.7 350.3,360.8 354.6,359.4 352.0,358.4" fill="#dadfe1" stroke="#dadfe1" stroke-width="0.9" stroke-linejoin="round"/><polygon points="343.3,361.1 345.9,362.1 350.3,360.8 347.7,359.7" fill="#dadfe1" stroke="#dadfe1" stroke-width="0.9" stroke-linejoin="round"/></g>
<line x1="259.70" y1="347.40" x2="259.70" y2="241.80" stroke="#555" stroke-width="0.8"/>
<line x1="259.70" y1="347.40" x2="342.80" y2="367.40" stroke="#555" stroke-width="0.8"/>
<line x1="342.80" y1="367.40" x2="415.50" y2="344.40" stroke="#555" stroke-width="0.8"/>
<line x1="259.70" y1="337.80" x2="257.20" y2="337.80" stroke="#555" stroke-width="0.7"/>
<line x1="259.70" y1="318.60" x2="257.20" y2="318.60" stroke="#555" stroke-width="0.7"/>
<line x1="259.70" y1="299.40" x2="257.20" y2="299.40" stroke="#555" stroke-width="0.7"/>
<line x1="259.70" y1="280.20" x2="257.20" y2="280.20" stroke="#555" stroke-width="0.7"/>
<line x1="259.70" y1="261.00" x2="257.20" y2="261.00" stroke="#555" stroke-width="0.7"/>
<line x1="259.70" y1="241.80" x2="257.20" y2="241.80" stroke="#555" stroke-width="0.7"/>
<text x="253.20" y="342.50" font-size="10.6" text-anchor="end" >4</text>
<text x="253.20" y="304.10" font-size="10.6" text-anchor="end" >8</text>
<text x="253.20" y="265.70" font-size="10.6" text-anchor="end" >12</text>
<line x1="259.70" y1="347.40" x2="258.20" y2="349.40" stroke="#555" stroke-width="0.7"/>
<text x="256.70" y="361.90" font-size="10.6" text-anchor="middle" >1</text>
<line x1="280.48" y1="352.40" x2="278.98" y2="354.40" stroke="#555" stroke-width="0.7"/>
<text x="277.48" y="366.90" font-size="10.6" text-anchor="middle" >2</text>
<line x1="301.25" y1="357.40" x2="299.75" y2="359.40" stroke="#555" stroke-width="0.7"/>
<text x="298.25" y="371.90" font-size="10.6" text-anchor="middle" >3</text>
<line x1="322.02" y1="362.40" x2="320.52" y2="364.40" stroke="#555" stroke-width="0.7"/>
<text x="319.02" y="376.90" font-size="10.6" text-anchor="middle" >4</text>
<line x1="342.80" y1="367.40" x2="341.30" y2="369.40" stroke="#555" stroke-width="0.7"/>
<text x="339.80" y="381.90" font-size="10.6" text-anchor="middle" >5</text>
<line x1="353.19" y1="364.11" x2="355.19" y2="365.11" stroke="#555" stroke-width="0.7"/>
<text x="364.69" y="375.11" font-size="10.6" text-anchor="middle" >400</text>
<line x1="373.96" y1="357.54" x2="375.96" y2="358.54" stroke="#555" stroke-width="0.7"/>
<text x="385.46" y="368.54" font-size="10.6" text-anchor="middle" >600</text>
<line x1="394.73" y1="350.97" x2="396.73" y2="351.97" stroke="#555" stroke-width="0.7"/>
<text x="406.23" y="361.97" font-size="10.6" text-anchor="middle" >800</text>
<text transform="translate(234.5,297) rotate(-90)" font-size="10.6" text-anchor="middle">Polarization ratio</text>
<text transform="translate(288.5,383.3) rotate(15)" font-size="11" text-anchor="middle"><tspan font-style="italic">R</tspan><tspan font-style="italic" font-size="8" dy="2.2">light</tspan><tspan dy="-2.2"> (</tspan><tspan font-style="italic">μ</tspan>m)</text>
<text transform="translate(403,381.5) rotate(-17.5)" font-size="10.6" text-anchor="middle">Wavelength (nm)</text>
<circle cx="602.4" cy="294.6" r="65.1" fill="#dbeff8"/>
<line x1="602.40" y1="294.60" x2="665.28" y2="277.75" stroke="#bccad2" stroke-width="0.45"/>
<line x1="602.40" y1="294.60" x2="648.43" y2="248.57" stroke="#bccad2" stroke-width="0.45"/>
<line x1="602.40" y1="294.60" x2="619.25" y2="231.72" stroke="#bccad2" stroke-width="0.45"/>
<line x1="602.40" y1="294.60" x2="585.55" y2="231.72" stroke="#bccad2" stroke-width="0.45"/>
<line x1="602.40" y1="294.60" x2="556.37" y2="248.57" stroke="#bccad2" stroke-width="0.45"/>
<line x1="602.40" y1="294.60" x2="539.52" y2="277.75" stroke="#bccad2" stroke-width="0.45"/>
<line x1="602.40" y1="294.60" x2="539.52" y2="311.45" stroke="#bccad2" stroke-width="0.45"/>
<line x1="602.40" y1="294.60" x2="556.37" y2="340.63" stroke="#bccad2" stroke-width="0.45"/>
<line x1="602.40" y1="294.60" x2="585.55" y2="357.48" stroke="#bccad2" stroke-width="0.45"/>
<line x1="602.40" y1="294.60" x2="619.25" y2="357.48" stroke="#bccad2" stroke-width="0.45"/>
<line x1="602.40" y1="294.60" x2="648.43" y2="340.63" stroke="#bccad2" stroke-width="0.45"/>
<line x1="602.40" y1="294.60" x2="665.28" y2="311.45" stroke="#bccad2" stroke-width="0.45"/>
<circle cx="602.4" cy="294.6" r="4.07" fill="none" stroke="#c2d0d8" stroke-width="0.45"/>
<circle cx="602.4" cy="294.6" r="12.21" fill="none" stroke="#c2d0d8" stroke-width="0.45"/>
<circle cx="602.4" cy="294.6" r="20.34" fill="none" stroke="#c2d0d8" stroke-width="0.45"/>
<circle cx="602.4" cy="294.6" r="28.48" fill="none" stroke="#c2d0d8" stroke-width="0.45"/>
<circle cx="602.4" cy="294.6" r="36.62" fill="none" stroke="#c2d0d8" stroke-width="0.45"/>
<circle cx="602.4" cy="294.6" r="44.76" fill="none" stroke="#c2d0d8" stroke-width="0.45"/>
<circle cx="602.4" cy="294.6" r="52.89" fill="none" stroke="#c2d0d8" stroke-width="0.45"/>
<circle cx="602.4" cy="294.6" r="61.03" fill="none" stroke="#c2d0d8" stroke-width="0.45"/>
<circle cx="602.4" cy="294.6" r="8.14" fill="none" stroke="#9eabb3" stroke-width="0.55"/>
<circle cx="602.4" cy="294.6" r="16.27" fill="none" stroke="#9eabb3" stroke-width="0.55"/>
<circle cx="602.4" cy="294.6" r="24.41" fill="none" stroke="#9eabb3" stroke-width="0.55"/>
<circle cx="602.4" cy="294.6" r="32.55" fill="none" stroke="#9eabb3" stroke-width="0.55"/>
<circle cx="602.4" cy="294.6" r="40.69" fill="none" stroke="#9eabb3" stroke-width="0.55"/>
<circle cx="602.4" cy="294.6" r="48.82" fill="none" stroke="#9eabb3" stroke-width="0.55"/>
<circle cx="602.4" cy="294.6" r="56.96" fill="none" stroke="#9eabb3" stroke-width="0.55"/>
<line x1="602.40" y1="294.60" x2="667.50" y2="294.60" stroke="#8a9398" stroke-width="0.6"/>
<line x1="602.40" y1="294.60" x2="658.78" y2="262.05" stroke="#8a9398" stroke-width="0.6"/>
<line x1="602.40" y1="294.60" x2="634.95" y2="238.22" stroke="#8a9398" stroke-width="0.6"/>
<line x1="602.40" y1="294.60" x2="602.40" y2="229.50" stroke="#8a9398" stroke-width="0.6"/>
<line x1="602.40" y1="294.60" x2="569.85" y2="238.22" stroke="#8a9398" stroke-width="0.6"/>
<line x1="602.40" y1="294.60" x2="546.02" y2="262.05" stroke="#8a9398" stroke-width="0.6"/>
<line x1="602.40" y1="294.60" x2="537.30" y2="294.60" stroke="#8a9398" stroke-width="0.6"/>
<line x1="602.40" y1="294.60" x2="546.02" y2="327.15" stroke="#8a9398" stroke-width="0.6"/>
<line x1="602.40" y1="294.60" x2="569.85" y2="350.98" stroke="#8a9398" stroke-width="0.6"/>
<line x1="602.40" y1="294.60" x2="602.40" y2="359.70" stroke="#8a9398" stroke-width="0.6"/>
<line x1="602.40" y1="294.60" x2="634.95" y2="350.98" stroke="#8a9398" stroke-width="0.6"/>
<line x1="602.40" y1="294.60" x2="658.78" y2="327.15" stroke="#8a9398" stroke-width="0.6"/>
<circle cx="602.4" cy="294.6" r="65.1" fill="none" stroke="#6f7b80" stroke-width="0.8"/>
<path d="M662.00,294.60 L661.91,292.52 L661.62,290.46 L661.16,288.42 L660.51,286.43 L659.68,284.50 L658.68,282.64 L657.53,280.86 L656.21,279.17 L654.76,277.59 L653.17,276.12 L651.47,274.78 L649.65,273.56 L647.75,272.48 L645.76,271.54 L643.71,270.75 L641.61,270.10 L639.47,269.60 L637.31,269.23 L635.15,269.01 L632.99,268.93 L630.85,268.98 L628.75,269.15 L626.69,269.45 L624.69,269.84 L622.76,270.34 L620.90,270.93 L619.12,271.59 L617.43,272.31 L615.84,273.09 L614.35,273.90 L612.96,274.74 L611.67,275.59 L610.48,276.44 L609.40,277.28 L608.41,278.09 L607.51,278.86 L606.70,279.59 L605.98,280.25 L605.32,280.85 L604.73,281.37 L604.20,281.80 L603.71,282.15 L603.25,282.40 L602.82,282.55 L602.40,282.60 L601.98,282.55 L601.55,282.40 L601.09,282.15 L600.60,281.80 L600.07,281.37 L599.48,280.85 L598.82,280.25 L598.10,279.59 L597.29,278.86 L596.39,278.09 L595.40,277.28 L594.32,276.44 L593.13,275.59 L591.84,274.74 L590.45,273.90 L588.96,273.09 L587.37,272.31 L585.68,271.59 L583.90,270.93 L582.04,270.34 L580.11,269.84 L578.11,269.45 L576.05,269.15 L573.95,268.98 L571.81,268.93 L569.65,269.01 L567.49,269.23 L565.33,269.60 L563.19,270.10 L561.09,270.75 L559.04,271.54 L557.05,272.48 L555.15,273.56 L553.33,274.78 L551.63,276.12 L550.04,277.59 L548.59,279.17 L547.27,280.86 L546.12,282.64 L545.12,284.50 L544.29,286.43 L543.64,288.42 L543.18,290.46 L542.89,292.52 L542.80,294.60 L542.89,296.68 L543.18,298.74 L543.64,300.78 L544.29,302.77 L545.12,304.70 L546.12,306.56 L547.27,308.34 L548.59,310.03 L550.04,311.61 L551.63,313.08 L553.33,314.42 L555.15,315.64 L557.05,316.72 L559.04,317.66 L561.09,318.45 L563.19,319.10 L565.33,319.60 L567.49,319.97 L569.65,320.19 L571.81,320.27 L573.95,320.22 L576.05,320.05 L578.11,319.75 L580.11,319.36 L582.04,318.86 L583.90,318.27 L585.68,317.61 L587.37,316.89 L588.96,316.11 L590.45,315.30 L591.84,314.46 L593.13,313.61 L594.32,312.76 L595.40,311.92 L596.39,311.11 L597.29,310.34 L598.10,309.61 L598.82,308.95 L599.48,308.35 L600.07,307.83 L600.60,307.40 L601.09,307.05 L601.55,306.80 L601.98,306.65 L602.40,306.60 L602.82,306.65 L603.25,306.80 L603.71,307.05 L604.20,307.40 L604.73,307.83 L605.32,308.35 L605.98,308.95 L606.70,309.61 L607.51,310.34 L608.41,311.11 L609.40,311.92 L610.48,312.76 L611.67,313.61 L612.96,314.46 L614.35,315.30 L615.84,316.11 L617.43,316.89 L619.12,317.61 L620.90,318.27 L622.76,318.86 L624.69,319.36 L626.69,319.75 L628.75,320.05 L630.85,320.22 L632.99,320.27 L635.15,320.19 L637.31,319.97 L639.47,319.60 L641.61,319.10 L643.71,318.45 L645.76,317.66 L647.75,316.72 L649.65,315.64 L651.47,314.42 L653.17,313.08 L654.76,311.61 L656.21,310.03 L657.53,308.34 L658.68,306.56 L659.68,304.70 L660.51,302.77 L661.16,300.78 L661.62,298.74 L661.91,296.68 L662.00,294.60 Z" fill="none" stroke="#e0585e" stroke-width="0.6"/>
<rect x="623.85" y="268.05" width="3.1" height="3.1" fill="#c8121d"/><rect x="626.85" y="268.65" width="3.1" height="3.1" fill="#c8121d"/><rect x="633.95" y="267.65" width="3.1" height="3.1" fill="#c8121d"/><rect x="639.05" y="269.25" width="3.1" height="3.1" fill="#c8121d"/><rect x="643.45" y="271.25" width="3.1" height="3.1" fill="#c8121d"/><rect x="645.15" y="274.75" width="3.1" height="3.1" fill="#c8121d"/><rect x="651.55" y="277.35" width="3.1" height="3.1" fill="#c8121d"/><rect x="654.25" y="281.45" width="3.1" height="3.1" fill="#c8121d"/><rect x="657.65" y="285.45" width="3.1" height="3.1" fill="#c8121d"/><rect x="655.25" y="288.95" width="3.1" height="3.1" fill="#c8121d"/><rect x="660.35" y="293.65" width="3.1" height="3.1" fill="#c8121d"/><rect x="658.25" y="298.45" width="3.1" height="3.1" fill="#c8121d"/><rect x="653.25" y="302.75" width="3.1" height="3.1" fill="#c8121d"/><rect x="655.65" y="308.25" width="3.1" height="3.1" fill="#c8121d"/><rect x="653.65" y="312.65" width="3.1" height="3.1" fill="#c8121d"/><rect x="647.75" y="315.55" width="3.1" height="3.1" fill="#c8121d"/><rect x="642.05" y="317.95" width="3.1" height="3.1" fill="#c8121d"/><rect x="639.05" y="320.45" width="3.1" height="3.1" fill="#c8121d"/><rect x="633.95" y="321.45" width="3.1" height="3.1" fill="#c8121d"/><rect x="627.85" y="320.95" width="3.1" height="3.1" fill="#c8121d"/><rect x="622.75" y="319.75" width="3.1" height="3.1" fill="#c8121d"/><rect x="617.75" y="317.95" width="3.1" height="3.1" fill="#c8121d"/><rect x="610.65" y="312.25" width="3.1" height="3.1" fill="#c8121d"/><rect x="606.55" y="310.25" width="3.1" height="3.1" fill="#c8121d"/><rect x="602.55" y="307.25" width="3.1" height="3.1" fill="#c8121d"/><rect x="615.65" y="270.65" width="3.1" height="3.1" fill="#c8121d"/><rect x="611.65" y="273.15" width="3.1" height="3.1" fill="#c8121d"/><rect x="606.55" y="276.75" width="3.1" height="3.1" fill="#c8121d"/><rect x="604.55" y="279.85" width="3.1" height="3.1" fill="#c8121d"/><rect x="559.05" y="267.05" width="3.1" height="3.1" fill="#c8121d"/><rect x="564.85" y="266.25" width="3.1" height="3.1" fill="#c8121d"/><rect x="568.95" y="264.75" width="3.1" height="3.1" fill="#c8121d"/><rect x="576.85" y="267.55" width="3.1" height="3.1" fill="#c8121d"/><rect x="583.15" y="270.85" width="3.1" height="3.1" fill="#c8121d"/><rect x="587.65" y="274.95" width="3.1" height="3.1" fill="#c8121d"/><rect x="557.05" y="270.85" width="3.1" height="3.1" fill="#c8121d"/><rect x="551.85" y="273.65" width="3.1" height="3.1" fill="#c8121d"/><rect x="548.85" y="277.75" width="3.1" height="3.1" fill="#c8121d"/><rect x="548.85" y="282.35" width="3.1" height="3.1" fill="#c8121d"/><rect x="543.35" y="286.55" width="3.1" height="3.1" fill="#c8121d"/><rect x="540.55" y="291.45" width="3.1" height="3.1" fill="#c8121d"/><rect x="542.25" y="296.75" width="3.1" height="3.1" fill="#c8121d"/><rect x="546.35" y="301.35" width="3.1" height="3.1" fill="#c8121d"/><rect x="554.65" y="303.35" width="3.1" height="3.1" fill="#c8121d"/><rect x="552.15" y="309.15" width="3.1" height="3.1" fill="#c8121d"/><rect x="558.45" y="311.25" width="3.1" height="3.1" fill="#c8121d"/><rect x="562.05" y="314.05" width="3.1" height="3.1" fill="#c8121d"/><rect x="564.85" y="316.55" width="3.1" height="3.1" fill="#c8121d"/><rect x="569.45" y="317.35" width="3.1" height="3.1" fill="#c8121d"/><rect x="573.95" y="318.25" width="3.1" height="3.1" fill="#c8121d"/><rect x="579.65" y="316.55" width="3.1" height="3.1" fill="#c8121d"/><rect x="585.15" y="313.75" width="3.1" height="3.1" fill="#c8121d"/><rect x="589.25" y="311.25" width="3.1" height="3.1" fill="#c8121d"/><rect x="593.85" y="307.25" width="3.1" height="3.1" fill="#c8121d"/><rect x="597.35" y="302.15" width="3.1" height="3.1" fill="#c8121d"/><rect x="591.05" y="276.35" width="3.1" height="3.1" fill="#c8121d"/><rect x="592.95" y="277.35" width="3.1" height="3.1" fill="#c8121d"/><rect x="596.15" y="280.45" width="3.1" height="3.1" fill="#c8121d"/><rect x="598.05" y="281.15" width="3.1" height="3.1" fill="#c8121d"/><rect x="599.95" y="281.75" width="3.1" height="3.1" fill="#c8121d"/><rect x="601.85" y="282.35" width="3.1" height="3.1" fill="#c8121d"/><rect x="601.25" y="280.85" width="3.1" height="3.1" fill="#c8121d"/><rect x="604.35" y="279.85" width="3.1" height="3.1" fill="#c8121d"/><rect x="604.35" y="277.05" width="3.1" height="3.1" fill="#c8121d"/><rect x="606.95" y="277.05" width="3.1" height="3.1" fill="#c8121d"/><rect x="610.75" y="273.25" width="3.1" height="3.1" fill="#c8121d"/><rect x="614.55" y="270.35" width="3.1" height="3.1" fill="#c8121d"/><rect x="615.75" y="272.05" width="3.1" height="3.1" fill="#c8121d"/><rect x="598.65" y="300.75" width="3.1" height="3.1" fill="#c8121d"/><rect x="597.45" y="302.65" width="3.1" height="3.1" fill="#c8121d"/><rect x="599.35" y="303.35" width="3.1" height="3.1" fill="#c8121d"/><rect x="599.95" y="304.55" width="3.1" height="3.1" fill="#c8121d"/><rect x="596.15" y="303.35" width="3.1" height="3.1" fill="#c8121d"/><rect x="593.55" y="306.45" width="3.1" height="3.1" fill="#c8121d"/><rect x="589.15" y="311.55" width="3.1" height="3.1" fill="#c8121d"/><rect x="602.45" y="305.85" width="3.1" height="3.1" fill="#c8121d"/><rect x="603.75" y="306.45" width="3.1" height="3.1" fill="#c8121d"/><rect x="601.85" y="308.45" width="3.1" height="3.1" fill="#c8121d"/><rect x="606.25" y="309.65" width="3.1" height="3.1" fill="#c8121d"/><rect x="609.45" y="311.55" width="3.1" height="3.1" fill="#c8121d"/><rect x="610.75" y="312.85" width="3.1" height="3.1" fill="#c8121d"/><rect x="608.85" y="313.05" width="3.1" height="3.1" fill="#c8121d"/><rect x="617.05" y="317.25" width="3.1" height="3.1" fill="#c8121d"/>
<text x="677.50" y="298.60" font-size="10.3" text-anchor="middle" >0°</text>
<text x="671.80" y="263.90" font-size="10.3" text-anchor="middle" >30°</text>
<text x="641.50" y="233.70" font-size="10.3" text-anchor="middle" >60°</text>
<text x="602.80" y="225.00" font-size="10.3" text-anchor="middle" >90°</text>
<text x="565.60" y="233.20" font-size="10.3" text-anchor="middle" >120°</text>
<text x="534.30" y="262.80" font-size="10.3" text-anchor="middle" >150°</text>
<text x="521.60" y="299.30" font-size="10.3" text-anchor="middle" >180°</text>
<text x="532.90" y="338.10" font-size="10.3" text-anchor="middle" >210°</text>
<text x="558.80" y="362.80" font-size="10.3" text-anchor="middle" >240°</text>
<text x="601.70" y="372.30" font-size="10.3" text-anchor="middle" >270°</text>
<text x="646.20" y="361.70" font-size="10.3" text-anchor="middle" >300°</text>
<text x="673.90" y="334.60" font-size="10.3" text-anchor="middle" >330°</text>
<line x1="505.7" y1="262.6" x2="505.7" y2="328.1" stroke="#666" stroke-width="0.7"/>
<line x1="503.09999999999997" y1="262.60" x2="505.7" y2="262.60" stroke="#666" stroke-width="0.6"/>
<line x1="504.3" y1="270.79" x2="505.7" y2="270.79" stroke="#666" stroke-width="0.6"/>
<line x1="503.09999999999997" y1="278.98" x2="505.7" y2="278.98" stroke="#666" stroke-width="0.6"/>
<line x1="504.3" y1="287.16" x2="505.7" y2="287.16" stroke="#666" stroke-width="0.6"/>
<line x1="503.09999999999997" y1="295.35" x2="505.7" y2="295.35" stroke="#666" stroke-width="0.6"/>
<line x1="504.3" y1="303.54" x2="505.7" y2="303.54" stroke="#666" stroke-width="0.6"/>
<line x1="503.09999999999997" y1="311.73" x2="505.7" y2="311.73" stroke="#666" stroke-width="0.6"/>
<line x1="504.3" y1="319.91" x2="505.7" y2="319.91" stroke="#666" stroke-width="0.6"/>
<line x1="503.09999999999997" y1="328.10" x2="505.7" y2="328.10" stroke="#666" stroke-width="0.6"/>
<text x="499.60" y="266.40" font-size="10.3" text-anchor="end" >450</text>
<text x="499.60" y="282.78" font-size="10.3" text-anchor="end" >350</text>
<text x="499.60" y="299.15" font-size="10.3" text-anchor="end" >250</text>
<text x="499.60" y="315.53" font-size="10.3" text-anchor="end" >150</text>
<text x="499.60" y="331.90" font-size="10.3" text-anchor="end" >50</text>
<text transform="translate(468.6,294.5) rotate(-90)" font-size="11" text-anchor="middle">|<tspan font-style="italic">I</tspan><tspan font-size="8" dy="2.2">ph</tspan><tspan dy="-2.2">| (nA)</tspan></text>
</svg></body></html>
